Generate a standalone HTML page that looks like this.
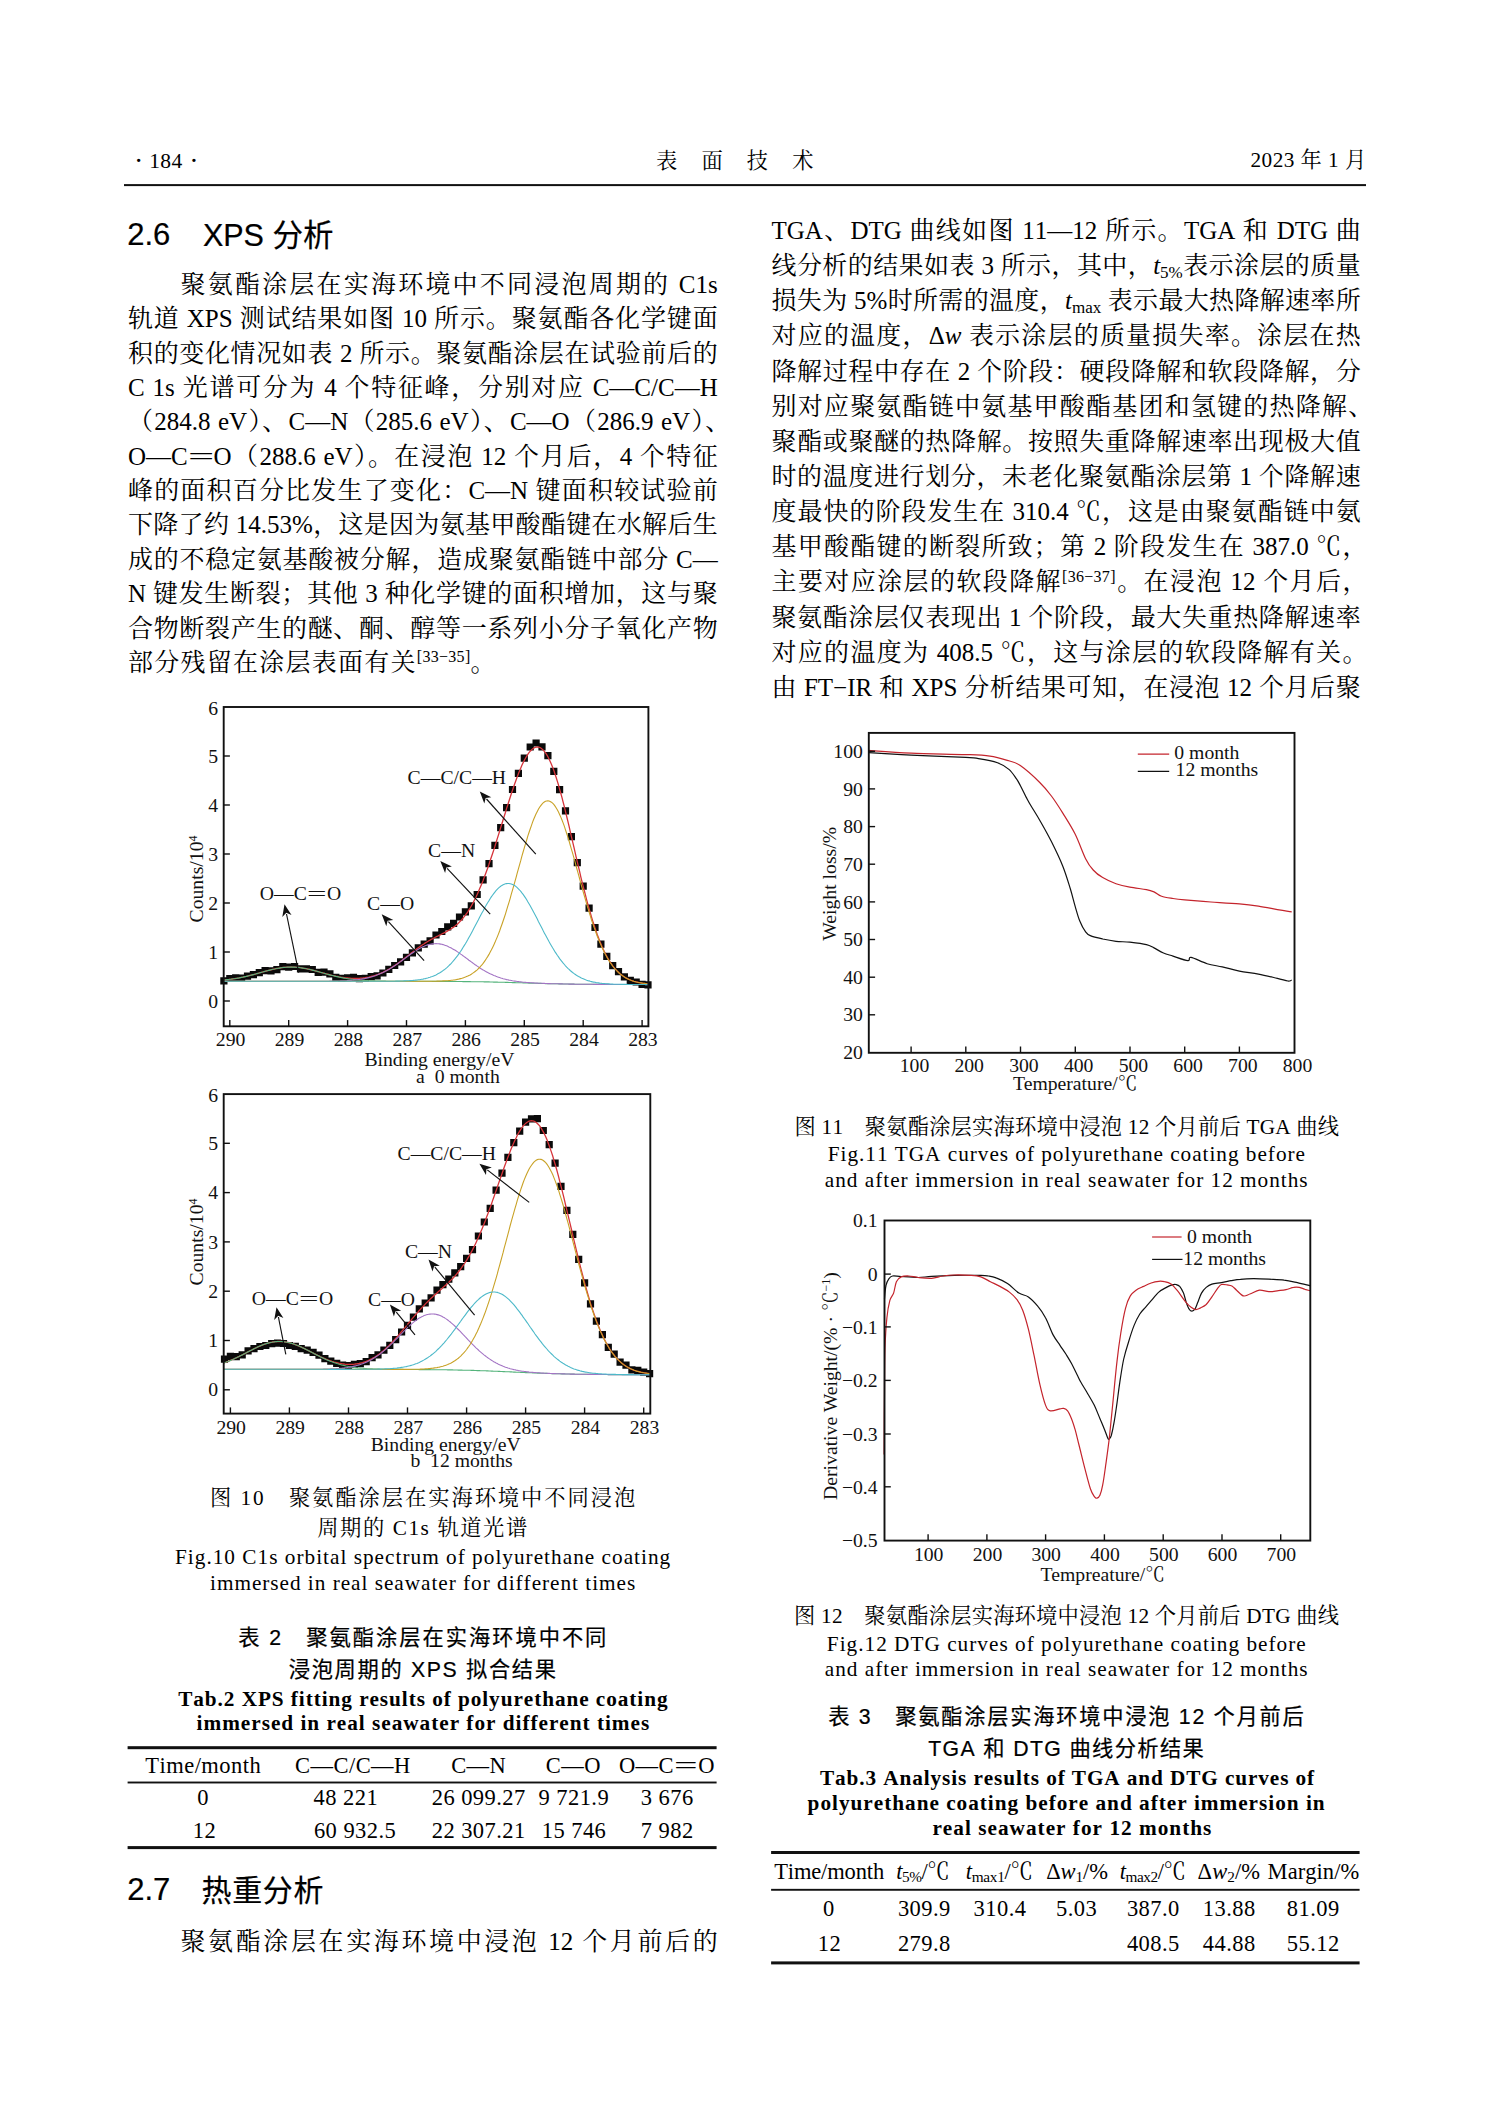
<!DOCTYPE html><html lang="zh"><head><meta charset="utf-8"><title>表面技术 184</title><style>
html,body{margin:0;padding:0;background:#fff}
body{width:1489px;height:2106px;position:relative;overflow:hidden;color:#000;font-family:"Liberation Serif","Noto Serif CJK SC",serif;text-autospace:no-autospace;text-spacing-trim:space-all;-webkit-font-smoothing:antialiased}
.t{position:absolute;white-space:nowrap;font-kerning:none}
.j{white-space:normal;text-align:justify;text-align-last:justify;overflow:visible}
.h{font-family:"Liberation Sans","Noto Sans CJK SC",sans-serif;-webkit-text-stroke:0.22px #000}
sup{font-size:64%;vertical-align:baseline;position:relative;top:-0.56em;line-height:0;letter-spacing:0.3px}
b{font-weight:inherit}
.pc{margin-right:-0.5em}
.po{margin-left:-0.5em}
.pq{margin-right:-0.27em}
.db{display:inline-block;transform:scaleX(1.86);margin:0 0.235em}
sub{font-size:68%;vertical-align:baseline;position:relative;top:0.22em;line-height:0}
svg{position:absolute;left:0;top:0}
svg text{font-family:"Liberation Serif","Noto Serif CJK SC",serif;font-size:19.7px;fill:#111}
</style></head><body>
<div class="t" style="top:142.75px;font-size:28px;line-height:36px;left:133.90px">·</div>
<div class="t" style="top:146.54px;font-size:21.5px;line-height:28px;letter-spacing:0.400px;left:149.20px">184</div>
<div class="t" style="top:142.75px;font-size:28px;line-height:36px;left:189.20px">·</div>
<div class="t" style="top:147.13px;font-size:21.25px;line-height:28px;letter-spacing:24.150px;left:656.00px">表面技术</div>
<div class="t" style="top:146.43px;font-size:21.25px;line-height:28px;letter-spacing:0.450px;right:122.40px">2023 年 1 月</div>
<div class="t h" style="top:214.86px;font-size:31px;line-height:40px;left:127.20px">2.6</div>
<div class="t h" style="top:214.63px;font-size:30.5px;line-height:40px;left:202.90px">XPS 分析</div>
<div class="t j" style="top:268.86px;font-size:25.0px;line-height:32px;left:180.50px;width:537.20px">聚氨酯涂层在实海环境中不同浸泡周期的 C1s</div>
<div class="t j" style="top:303.23px;font-size:25.0px;line-height:32px;left:128.00px;width:589.70px">轨道 XPS 测试结果如图 10 所示。聚氨酯各化学键面</div>
<div class="t j" style="top:337.60px;font-size:25.0px;line-height:32px;left:128.00px;width:589.70px">积的变化情况如表 2 所示。聚氨酯涂层在试验前后的</div>
<div class="t j" style="top:371.97px;font-size:25.0px;line-height:32px;left:128.00px;width:589.70px">C 1s 光谱可分为 4 个特征峰，分别对应 C—C/C—H</div>
<div class="t j" style="top:406.34px;font-size:25.0px;line-height:32px;left:128.00px;width:589.70px">（284.8 eV<b class="pc">）</b>、C—N（285.6 eV<b class="pc">）</b>、C—O（286.9 eV<b class="pc">）</b><b class="pc">、</b></div>
<div class="t j" style="top:440.71px;font-size:25.0px;line-height:32px;left:128.00px;width:589.70px">O—C<b class="db">=</b>O（288.6 eV<b class="pc">）</b>。在浸泡 12 个月后，4 个特征</div>
<div class="t j" style="top:475.08px;font-size:25.0px;line-height:32px;left:128.00px;width:589.70px">峰的面积百分比发生了变化：C—N 键面积较试验前</div>
<div class="t j" style="top:509.45px;font-size:25.0px;line-height:32px;left:128.00px;width:589.70px">下降了约 14.53%，这是因为氨基甲酸酯键在水解后生</div>
<div class="t j" style="top:543.82px;font-size:25.0px;line-height:32px;left:128.00px;width:589.70px">成的不稳定氨基酸被分解，造成聚氨酯链中部分 C—</div>
<div class="t j" style="top:578.19px;font-size:25.0px;line-height:32px;left:128.00px;width:589.70px">N 键发生断裂；其他 3 种化学键的面积增加，这与聚</div>
<div class="t j" style="top:612.56px;font-size:25.0px;line-height:32px;left:128.00px;width:589.70px">合物断裂产生的醚、酮、醇等一系列小分子氧化产物</div>
<div class="t" style="top:646.93px;font-size:25.0px;line-height:32px;letter-spacing:1.250px;left:128.00px">部分残留在涂层表面有关<sup>[33−35]</sup>。</div>
<div class="t j" style="top:215.06px;font-size:25.0px;line-height:32px;left:771.50px;width:589.20px">TGA、DTG 曲线如图 11—12 所示。TGA 和 DTG 曲</div>
<div class="t j" style="top:250.20px;font-size:25.0px;line-height:32px;left:771.50px;width:589.20px">线分析的结果如表 3 所示，其中，<i>t</i><sub>5%</sub>表示涂层的质量</div>
<div class="t j" style="top:285.34px;font-size:25.0px;line-height:32px;left:771.50px;width:589.20px">损失为 5%时所需的温度，<i>t</i><sub>max</sub> 表示最大热降解速率所</div>
<div class="t j" style="top:320.48px;font-size:25.0px;line-height:32px;left:771.50px;width:589.20px">对应的温度，Δ<i>w</i> 表示涂层的质量损失率。涂层在热</div>
<div class="t j" style="top:355.62px;font-size:25.0px;line-height:32px;left:771.50px;width:589.20px">降解过程中存在 2 个阶段：硬段降解和软段降解，分</div>
<div class="t j" style="top:390.76px;font-size:25.0px;line-height:32px;left:771.50px;width:589.20px">别对应聚氨酯链中氨基甲酸酯基团和氢键的热降解<b class="pc">、</b></div>
<div class="t j" style="top:425.90px;font-size:25.0px;line-height:32px;left:771.50px;width:589.20px">聚酯或聚醚的热降解。按照失重降解速率出现极大值</div>
<div class="t j" style="top:461.04px;font-size:25.0px;line-height:32px;left:771.50px;width:589.20px">时的温度进行划分，未老化聚氨酯涂层第 1 个降解速</div>
<div class="t j" style="top:496.18px;font-size:25.0px;line-height:32px;left:771.50px;width:589.20px">度最快的阶段发生在 310.4 ℃，这是由聚氨酯链中氨</div>
<div class="t j" style="top:531.32px;font-size:25.0px;line-height:32px;left:771.50px;width:589.20px">基甲酸酯键的断裂所致；第 2 阶段发生在 387.0 ℃<b class="pq">，</b></div>
<div class="t j" style="top:566.46px;font-size:25.0px;line-height:32px;left:771.50px;width:589.20px">主要对应涂层的软段降解<sup>[36−37]</sup>。在浸泡 12 个月后<b class="pq">，</b></div>
<div class="t j" style="top:601.60px;font-size:25.0px;line-height:32px;left:771.50px;width:589.20px">聚氨酯涂层仅表现出 1 个阶段，最大失重热降解速率</div>
<div class="t j" style="top:636.74px;font-size:25.0px;line-height:32px;left:771.50px;width:589.20px">对应的温度为 408.5 ℃，这与涂层的软段降解有关<b class="pq">。</b></div>
<div class="t j" style="top:671.88px;font-size:25.0px;line-height:32px;left:771.50px;width:589.20px">由 FT−IR 和 XPS 分析结果可知，在浸泡 12 个月后聚</div>
<div class="t" style="top:1483.63px;font-size:21.25px;line-height:28px;letter-spacing:1.967px;left:210.00px">图 10　聚氨酯涂层在实海环境中不同浸泡</div>
<div class="t" style="top:1514.33px;font-size:21.25px;line-height:28px;letter-spacing:1.595px;left:317.20px">周期的 C1s 轨道光谱</div>
<div class="t" style="top:1543.43px;font-size:21.25px;line-height:28px;letter-spacing:1.016px;left:175.00px">Fig.10 C1s orbital spectrum of polyurethane coating</div>
<div class="t" style="top:1568.53px;font-size:21.25px;line-height:28px;letter-spacing:0.974px;left:210.00px">immersed in real seawater for different times</div>
<div class="t h" style="top:1623.84px;font-size:21.25px;line-height:28px;letter-spacing:1.982px;left:238.20px">表 2　聚氨酯涂层在实海环境中不同</div>
<div class="t h" style="top:1656.04px;font-size:21.25px;line-height:28px;letter-spacing:1.662px;left:288.80px">浸泡周期的 XPS 拟合结果</div>
<div class="t" style="top:1684.63px;font-size:21.25px;line-height:28px;font-weight:bold;letter-spacing:0.935px;left:178.20px">Tab.2 XPS fitting results of polyurethane coating</div>
<div class="t" style="top:1709.33px;font-size:21.25px;line-height:28px;font-weight:bold;letter-spacing:0.980px;left:196.60px">immersed in real seawater for different times</div>
<div class="t" style="top:1750.61px;font-size:22.5px;line-height:29px;letter-spacing:0.450px;left:-97.00px;width:600px;text-align:center;text-indent:0.450px">Time/month</div>
<div class="t" style="top:1750.61px;font-size:22.5px;line-height:29px;letter-spacing:0.450px;left:52.70px;width:600px;text-align:center;text-indent:0.450px">C—C/C—H</div>
<div class="t" style="top:1750.61px;font-size:22.5px;line-height:29px;letter-spacing:0.450px;left:178.50px;width:600px;text-align:center;text-indent:0.450px">C—N</div>
<div class="t" style="top:1750.61px;font-size:22.5px;line-height:29px;letter-spacing:0.450px;left:273.20px;width:600px;text-align:center;text-indent:0.450px">C—O</div>
<div class="t" style="top:1750.61px;font-size:22.5px;line-height:29px;letter-spacing:0.450px;left:366.70px;width:600px;text-align:center;text-indent:0.450px">O—C<b class="db">=</b>O</div>
<div class="t" style="top:1783.41px;font-size:22.5px;line-height:29px;letter-spacing:0.450px;left:-97.20px;width:600px;text-align:center;text-indent:0.450px">0</div>
<div class="t" style="top:1783.41px;font-size:22.5px;line-height:29px;letter-spacing:0.450px;left:45.60px;width:600px;text-align:center;text-indent:0.450px">48 221</div>
<div class="t" style="top:1783.41px;font-size:22.5px;line-height:29px;letter-spacing:0.450px;left:178.50px;width:600px;text-align:center;text-indent:0.450px">26 099.27</div>
<div class="t" style="top:1783.41px;font-size:22.5px;line-height:29px;letter-spacing:0.450px;left:273.60px;width:600px;text-align:center;text-indent:0.450px">9 721.9</div>
<div class="t" style="top:1783.41px;font-size:22.5px;line-height:29px;letter-spacing:0.450px;left:367.00px;width:600px;text-align:center;text-indent:0.450px">3 676</div>
<div class="t" style="top:1815.81px;font-size:22.5px;line-height:29px;letter-spacing:0.450px;left:-95.80px;width:600px;text-align:center;text-indent:0.450px">12</div>
<div class="t" style="top:1815.81px;font-size:22.5px;line-height:29px;letter-spacing:0.450px;left:54.90px;width:600px;text-align:center;text-indent:0.450px">60 932.5</div>
<div class="t" style="top:1815.81px;font-size:22.5px;line-height:29px;letter-spacing:0.450px;left:178.50px;width:600px;text-align:center;text-indent:0.450px">22 307.21</div>
<div class="t" style="top:1815.81px;font-size:22.5px;line-height:29px;letter-spacing:0.450px;left:273.80px;width:600px;text-align:center;text-indent:0.450px">15 746</div>
<div class="t" style="top:1815.81px;font-size:22.5px;line-height:29px;letter-spacing:0.450px;left:367.00px;width:600px;text-align:center;text-indent:0.450px">7 982</div>
<div class="t h" style="top:1870.46px;font-size:31px;line-height:40px;left:127.20px">2.7</div>
<div class="t h" style="top:1870.90px;font-size:30px;line-height:39px;letter-spacing:0.600px;left:201.60px">热重分析</div>
<div class="t j" style="top:1926.46px;font-size:25.0px;line-height:32px;left:180.50px;width:537.20px">聚氨酯涂层在实海环境中浸泡 12 个月前后的</div>
<div class="t" style="top:1112.83px;font-size:21.25px;line-height:28px;letter-spacing:0.215px;left:794.60px">图 11　聚氨酯涂层实海环境中浸泡 12 个月前后 TGA 曲线</div>
<div class="t" style="top:1139.63px;font-size:21.25px;line-height:28px;letter-spacing:0.975px;left:827.80px">Fig.11 TGA curves of polyurethane coating before</div>
<div class="t" style="top:1165.83px;font-size:21.25px;line-height:28px;letter-spacing:0.990px;left:824.80px">and after immersion in real seawater for 12 months</div>
<div class="t" style="top:1601.73px;font-size:21.25px;line-height:28px;letter-spacing:0.234px;left:794.00px">图 12　聚氨酯涂层实海环境中浸泡 12 个月前后 DTG 曲线</div>
<div class="t" style="top:1630.33px;font-size:21.25px;line-height:28px;letter-spacing:1.013px;left:826.80px">Fig.12 DTG curves of polyurethane coating before</div>
<div class="t" style="top:1654.93px;font-size:21.25px;line-height:28px;letter-spacing:0.990px;left:824.80px">and after immersion in real seawater for 12 months</div>
<div class="t h" style="top:1703.04px;font-size:21.25px;line-height:28px;letter-spacing:1.736px;left:828.20px">表 3　聚氨酯涂层实海环境中浸泡 12 个月前后</div>
<div class="t h" style="top:1735.04px;font-size:21.25px;line-height:28px;letter-spacing:1.372px;left:928.20px">TGA 和 DTG 曲线分析结果</div>
<div class="t" style="top:1763.73px;font-size:21.25px;line-height:28px;font-weight:bold;letter-spacing:0.900px;left:820.00px">Tab.3 Analysis results of TGA and DTG curves of</div>
<div class="t" style="top:1789.33px;font-size:21.25px;line-height:28px;font-weight:bold;letter-spacing:0.987px;left:807.60px">polyurethane coating before and after immersion in</div>
<div class="t" style="top:1814.33px;font-size:21.25px;line-height:28px;font-weight:bold;letter-spacing:1.016px;left:932.40px">real seawater for 12 months</div>
<div class="t" style="top:1856.91px;font-size:22.5px;line-height:29px;letter-spacing:-0.139px;left:774.20px">Time/month</div>
<div class="t" style="top:1856.91px;font-size:22.5px;line-height:29px;letter-spacing:-0.459px;left:896.20px"><i>t</i><sub>5%</sub>/℃</div>
<div class="t" style="top:1856.91px;font-size:22.5px;line-height:29px;letter-spacing:-0.305px;left:965.80px"><i>t</i><sub>max1</sub>/℃</div>
<div class="t" style="top:1856.91px;font-size:22.5px;line-height:29px;letter-spacing:-0.089px;left:1046.20px">Δ<i>w</i><sub>1</sub>/%</div>
<div class="t" style="top:1856.91px;font-size:22.5px;line-height:29px;letter-spacing:-0.472px;left:1119.80px"><i>t</i><sub>max2</sub>/℃</div>
<div class="t" style="top:1856.91px;font-size:22.5px;line-height:29px;letter-spacing:0.061px;left:1197.60px">Δ<i>w</i><sub>2</sub>/%</div>
<div class="t" style="top:1856.91px;font-size:22.5px;line-height:29px;letter-spacing:0.052px;left:1267.60px">Margin/%</div>
<div class="t" style="top:1893.61px;font-size:22.5px;line-height:29px;letter-spacing:0.450px;left:624.10px;width:600px;text-align:center;text-indent:0.450px">309.9</div>
<div class="t" style="top:1893.61px;font-size:22.5px;line-height:29px;letter-spacing:0.450px;left:699.80px;width:600px;text-align:center;text-indent:0.450px">310.4</div>
<div class="t" style="top:1893.61px;font-size:22.5px;line-height:29px;letter-spacing:0.450px;left:776.45px;width:600px;text-align:center;text-indent:0.450px">5.03</div>
<div class="t" style="top:1893.61px;font-size:22.5px;line-height:29px;letter-spacing:0.450px;left:853.10px;width:600px;text-align:center;text-indent:0.450px">387.0</div>
<div class="t" style="top:1893.61px;font-size:22.5px;line-height:29px;letter-spacing:0.450px;left:929.05px;width:600px;text-align:center;text-indent:0.450px">13.88</div>
<div class="t" style="top:1893.61px;font-size:22.5px;line-height:29px;letter-spacing:0.450px;left:1013.00px;width:600px;text-align:center;text-indent:0.450px">81.09</div>
<div class="t" style="top:1893.61px;font-size:22.5px;line-height:29px;letter-spacing:0.450px;left:528.70px;width:600px;text-align:center;text-indent:0.450px">0</div>
<div class="t" style="top:1929.01px;font-size:22.5px;line-height:29px;letter-spacing:0.450px;left:624.10px;width:600px;text-align:center;text-indent:0.450px">279.8</div>
<div class="t" style="top:1929.01px;font-size:22.5px;line-height:29px;letter-spacing:0.450px;left:853.10px;width:600px;text-align:center;text-indent:0.450px">408.5</div>
<div class="t" style="top:1929.01px;font-size:22.5px;line-height:29px;letter-spacing:0.450px;left:929.05px;width:600px;text-align:center;text-indent:0.450px">44.88</div>
<div class="t" style="top:1929.01px;font-size:22.5px;line-height:29px;letter-spacing:0.450px;left:1013.00px;width:600px;text-align:center;text-indent:0.450px">55.12</div>
<div class="t" style="top:1929.01px;font-size:22.5px;line-height:29px;letter-spacing:0.450px;left:529.30px;width:600px;text-align:center;text-indent:0.450px">12</div>
<svg width="1489" height="2106" viewBox="0 0 1489 2106"><clipPath id="cp1"><rect x="223.7" y="707.0" width="424.7" height="319.3"/></clipPath>
<path d="M220.3,977.3h7.2v7.2h-7.2zM226.2,974.9h7.2v7.2h-7.2zM232.1,974.2h7.2v7.2h-7.2zM238.0,974.4h7.2v7.2h-7.2zM243.9,972.5h7.2v7.2h-7.2zM249.8,971.1h7.2v7.2h-7.2zM255.7,969.0h7.2v7.2h-7.2zM261.5,967.0h7.2v7.2h-7.2zM267.4,967.2h7.2v7.2h-7.2zM273.3,966.0h7.2v7.2h-7.2zM279.2,963.1h7.2v7.2h-7.2zM285.1,963.6h7.2v7.2h-7.2zM291.0,962.9h7.2v7.2h-7.2zM296.9,965.3h7.2v7.2h-7.2zM302.8,965.2h7.2v7.2h-7.2zM308.7,965.9h7.2v7.2h-7.2zM314.6,968.7h7.2v7.2h-7.2zM320.4,968.5h7.2v7.2h-7.2zM326.3,970.2h7.2v7.2h-7.2zM332.2,973.7h7.2v7.2h-7.2zM338.1,974.8h7.2v7.2h-7.2zM344.0,974.3h7.2v7.2h-7.2zM349.9,973.7h7.2v7.2h-7.2zM355.8,975.0h7.2v7.2h-7.2zM361.7,974.8h7.2v7.2h-7.2zM367.6,973.1h7.2v7.2h-7.2zM373.5,972.3h7.2v7.2h-7.2zM379.3,969.4h7.2v7.2h-7.2zM385.2,965.8h7.2v7.2h-7.2zM391.1,961.9h7.2v7.2h-7.2zM397.0,958.3h7.2v7.2h-7.2zM402.9,953.8h7.2v7.2h-7.2zM408.8,949.3h7.2v7.2h-7.2zM414.7,944.2h7.2v7.2h-7.2zM420.6,940.5h7.2v7.2h-7.2zM426.5,937.3h7.2v7.2h-7.2zM432.4,931.4h7.2v7.2h-7.2zM438.2,927.9h7.2v7.2h-7.2zM444.1,923.2h7.2v7.2h-7.2zM450.0,919.8h7.2v7.2h-7.2zM455.9,913.4h7.2v7.2h-7.2zM461.8,908.3h7.2v7.2h-7.2zM467.7,902.2h7.2v7.2h-7.2zM473.6,890.9h7.2v7.2h-7.2zM479.5,876.2h7.2v7.2h-7.2zM485.4,860.1h7.2v7.2h-7.2zM491.3,841.7h7.2v7.2h-7.2zM497.1,824.1h7.2v7.2h-7.2zM503.0,804.0h7.2v7.2h-7.2zM508.9,785.9h7.2v7.2h-7.2zM514.8,769.8h7.2v7.2h-7.2zM520.7,754.5h7.2v7.2h-7.2zM526.6,743.4h7.2v7.2h-7.2zM532.5,739.4h7.2v7.2h-7.2zM538.4,743.2h7.2v7.2h-7.2zM544.3,752.0h7.2v7.2h-7.2zM550.2,767.7h7.2v7.2h-7.2zM556.0,786.1h7.2v7.2h-7.2zM561.9,807.3h7.2v7.2h-7.2zM567.8,833.1h7.2v7.2h-7.2zM573.7,859.1h7.2v7.2h-7.2zM579.6,882.6h7.2v7.2h-7.2zM585.5,904.5h7.2v7.2h-7.2zM591.4,923.9h7.2v7.2h-7.2zM597.3,940.5h7.2v7.2h-7.2zM603.2,952.8h7.2v7.2h-7.2zM609.1,962.0h7.2v7.2h-7.2zM614.9,968.1h7.2v7.2h-7.2zM620.8,973.3h7.2v7.2h-7.2zM626.7,976.7h7.2v7.2h-7.2zM632.6,978.4h7.2v7.2h-7.2zM638.5,980.7h7.2v7.2h-7.2zM644.4,981.3h7.2v7.2h-7.2z" fill="#0a0a0a"/>
<g clip-path="url(#cp1)">
<path d="M222.7,980.1L223.9,980.0L225.1,979.9L226.3,979.7L227.4,979.6L228.6,979.5L229.8,979.3L231.0,979.2L232.2,979.0L233.3,978.8L234.5,978.7L235.7,978.5L236.9,978.3L238.0,978.1L239.2,977.9L240.4,977.6L241.6,977.4L242.8,977.2L243.9,976.9L245.1,976.6L246.3,976.4L247.5,976.1L248.6,975.8L249.8,975.5L251.0,975.2L252.2,974.9L253.4,974.6L254.5,974.3L255.7,974.0L256.9,973.6L258.1,973.3L259.2,973.0L260.4,972.6L261.6,972.3L262.8,972.0L264.0,971.6L265.1,971.3L266.3,971.0L267.5,970.7L268.7,970.4L269.9,970.1L271.0,969.8L272.2,969.5L273.4,969.2L274.6,969.0L275.7,968.7L276.9,968.5L278.1,968.3L279.3,968.1L280.5,967.9L281.6,967.7L282.8,967.5L284.0,967.4L285.2,967.3L286.3,967.2L287.5,967.1L288.7,967.1L289.9,967.1L291.1,967.0L292.2,967.1L293.4,967.1L294.6,967.1L295.8,967.2L296.9,967.3L298.1,967.4L299.3,967.5L300.5,967.7L301.7,967.9L302.8,968.1L304.0,968.3L305.2,968.5L306.4,968.7L307.5,969.0L308.7,969.2L309.9,969.5L311.1,969.8L312.3,970.1L313.4,970.4L314.6,970.7L315.8,971.0L317.0,971.3L318.1,971.6L319.3,971.9L320.5,972.3L321.7,972.6L322.9,972.9L324.0,973.2L325.2,973.6L326.4,973.9L327.6,974.2L328.8,974.5L329.9,974.8L331.1,975.1L332.3,975.4L333.5,975.6L334.6,975.9L335.8,976.2L337.0,976.4L338.2,976.6L339.4,976.9L340.5,977.1L341.7,977.3L342.9,977.4L344.1,977.6L345.2,977.8L346.4,977.9L347.6,978.0L348.8,978.1L350.0,978.2L351.1,978.3L352.3,978.3L353.5,978.4L354.7,978.4L355.8,978.4L357.0,978.4L358.2,978.3L359.4,978.3L360.6,978.2L361.7,978.1L362.9,978.0L364.1,977.8L365.3,977.7L366.4,977.5L367.6,977.3L368.8,977.1L370.0,976.8L371.2,976.5L372.3,976.2L373.5,975.9L374.7,975.5L375.9,975.1L377.1,974.7L378.2,974.3L379.4,973.8L380.6,973.4L381.8,972.8L382.9,972.3L384.1,971.7L385.3,971.1L386.5,970.5L387.7,969.9L388.8,969.2L390.0,968.5L391.2,967.8L392.4,967.0L393.5,966.3L394.7,965.5L395.9,964.7L397.1,963.9L398.3,963.0L399.4,962.2L400.6,961.3L401.8,960.4L403.0,959.5L404.1,958.6L405.3,957.7L406.5,956.8L407.7,955.8L408.9,954.9L410.0,954.0L411.2,953.1L412.4,952.2L413.6,951.3L414.7,950.4L415.9,949.5L417.1,948.6L418.3,947.7L419.5,946.9L420.6,946.1L421.8,945.3L423.0,944.5L424.2,943.7L425.3,942.9L426.5,942.2L427.7,941.5L428.9,940.8L430.1,940.1L431.2,939.4L432.4,938.8L433.6,938.2L434.8,937.5L436.0,936.9L437.1,936.3L438.3,935.8L439.5,935.2L440.7,934.6L441.8,934.0L443.0,933.4L444.2,932.8L445.4,932.2L446.6,931.6L447.7,930.9L448.9,930.2L450.1,929.5L451.3,928.7L452.4,927.9L453.6,927.1L454.8,926.2L456.0,925.2L457.2,924.2L458.3,923.2L459.5,922.0L460.7,920.8L461.9,919.5L463.0,918.1L464.2,916.7L465.4,915.1L466.6,913.5L467.8,911.8L468.9,909.9L470.1,908.0L471.3,906.0L472.5,903.9L473.6,901.7L474.8,899.4L476.0,897.0L477.2,894.4L478.4,891.8L479.5,889.1L480.7,886.3L481.9,883.4L483.1,880.4L484.2,877.4L485.4,874.2L486.6,871.0L487.8,867.7L489.0,864.3L490.1,860.8L491.3,857.3L492.5,853.7L493.7,850.1L494.9,846.4L496.0,842.7L497.2,838.9L498.4,835.1L499.6,831.3L500.7,827.5L501.9,823.7L503.1,819.8L504.3,816.0L505.5,812.2L506.6,808.4L507.8,804.7L509.0,801.0L510.2,797.3L511.3,793.7L512.5,790.2L513.7,786.7L514.9,783.3L516.1,780.0L517.2,776.9L518.4,773.8L519.6,770.8L520.8,768.0L521.9,765.3L523.1,762.8L524.3,760.4L525.5,758.2L526.7,756.2L527.8,754.3L529.0,752.7L530.2,751.2L531.4,750.0L532.5,748.9L533.7,748.1L534.9,747.5L536.1,747.1L537.3,747.0L538.4,747.1L539.6,747.4L540.8,748.0L542.0,748.9L543.1,749.9L544.3,751.3L545.5,752.8L546.7,754.6L547.9,756.7L549.0,759.0L550.2,761.5L551.4,764.2L552.6,767.2L553.8,770.3L554.9,773.7L556.1,777.3L557.3,781.1L558.5,785.0L559.6,789.1L560.8,793.3L562.0,797.7L563.2,802.3L564.4,806.9L565.5,811.7L566.7,816.5L567.9,821.4L569.1,826.4L570.2,831.4L571.4,836.5L572.6,841.6L573.8,846.7L575.0,851.8L576.1,856.8L577.3,861.9L578.5,866.9L579.7,871.9L580.8,876.8L582.0,881.6L583.2,886.4L584.4,891.0L585.6,895.6L586.7,900.1L587.9,904.4L589.1,908.6L590.3,912.8L591.4,916.7L592.6,920.6L593.8,924.3L595.0,927.9L596.2,931.4L597.3,934.7L598.5,937.8L599.7,940.9L600.9,943.8L602.0,946.5L603.2,949.2L604.4,951.7L605.6,954.0L606.8,956.2L607.9,958.4L609.1,960.3L610.3,962.2L611.5,964.0L612.6,965.6L613.8,967.1L615.0,968.6L616.2,969.9L617.4,971.2L618.5,972.3L619.7,973.4L620.9,974.4L622.1,975.3L623.3,976.2L624.4,977.0L625.6,977.7L626.8,978.3L628.0,978.9L629.1,979.5L630.3,980.0L631.5,980.5L632.7,980.9L633.9,981.3L635.0,981.6L636.2,981.9L637.4,982.2L638.6,982.5L639.7,982.7L640.9,982.9L642.1,983.1L643.3,983.3L644.5,983.4L645.6,983.6L646.8,983.7L648.0,983.8L649.2,983.9" fill="none" stroke="#d6343a" stroke-width="1.3"/>
<path d="M222.7,980.1L223.9,980.0L225.1,979.9L226.3,979.7L227.4,979.6L228.6,979.5L229.8,979.3L231.0,979.2L232.2,979.0L233.3,978.8L234.5,978.7L235.7,978.5L236.9,978.3L238.0,978.1L239.2,977.9L240.4,977.6L241.6,977.4L242.8,977.2L243.9,976.9L245.1,976.6L246.3,976.4L247.5,976.1L248.6,975.8L249.8,975.5L251.0,975.2L252.2,974.9L253.4,974.6L254.5,974.3L255.7,974.0L256.9,973.6L258.1,973.3L259.2,973.0L260.4,972.6L261.6,972.3L262.8,972.0L264.0,971.6L265.1,971.3L266.3,971.0L267.5,970.7L268.7,970.4L269.9,970.1L271.0,969.8L272.2,969.5L273.4,969.2L274.6,969.0L275.7,968.7L276.9,968.5L278.1,968.3L279.3,968.1L280.5,967.9L281.6,967.7L282.8,967.5L284.0,967.4L285.2,967.3L286.3,967.2L287.5,967.1L288.7,967.1L289.9,967.1L291.1,967.0L292.2,967.1L293.4,967.1L294.6,967.1L295.8,967.2L296.9,967.3L298.1,967.4L299.3,967.5L300.5,967.7L301.7,967.9L302.8,968.1L304.0,968.3L305.2,968.5L306.4,968.7L307.5,969.0L308.7,969.2L309.9,969.5L311.1,969.8L312.3,970.1L313.4,970.4L314.6,970.7L315.8,971.0L317.0,971.3L318.1,971.6L319.3,972.0L320.5,972.3L321.7,972.6L322.9,973.0L324.0,973.3L325.2,973.6L326.4,974.0L327.6,974.3L328.8,974.6L329.9,974.9L331.1,975.2L332.3,975.5L333.5,975.8L334.6,976.1L335.8,976.4L337.0,976.6L338.2,976.9L339.4,977.2L340.5,977.4L341.7,977.6L342.9,977.9L344.1,978.1L345.2,978.3L346.4,978.5L347.6,978.7L348.8,978.9L350.0,979.0L351.1,979.2L352.3,979.3L353.5,979.5L354.7,979.6L355.8,979.7L357.0,979.9L358.2,980.0L359.4,980.1L360.6,980.2L361.7,980.3L362.9,980.4L364.1,980.4L365.3,980.5L366.4,980.6L367.6,980.6L368.8,980.7L370.0,980.7L371.2,980.8L372.3,980.8L373.5,980.9L374.7,980.9L375.9,981.0L377.1,981.0L378.2,981.0L379.4,981.0L380.6,981.1L381.8,981.1L382.9,981.1L384.1,981.1L385.3,981.1L386.5,981.2L387.7,981.2L388.8,981.2L390.0,981.2L391.2,981.2L392.4,981.2L393.5,981.2L394.7,981.2L395.9,981.2L397.1,981.2L398.3,981.3L399.4,981.3L400.6,981.3L401.8,981.3L403.0,981.3L404.1,981.3L405.3,981.3L406.5,981.3L407.7,981.3L408.9,981.3L410.0,981.3L411.2,981.3L412.4,981.3L413.6,981.3L414.7,981.3L415.9,981.3L417.1,981.3L418.3,981.3L419.5,981.3L420.6,981.3L421.8,981.3L423.0,981.3L424.2,981.3L425.3,981.3L426.5,981.3L427.7,981.3L428.9,981.3L430.1,981.3L431.2,981.3L432.4,981.4L433.6,981.4L434.8,981.4L436.0,981.4L437.1,981.4L438.3,981.4L439.5,981.4L440.7,981.4L441.8,981.4L443.0,981.4L444.2,981.4L445.4,981.4L446.6,981.4L447.7,981.4L448.9,981.4L450.1,981.4L451.3,981.5L452.4,981.5L453.6,981.5L454.8,981.5L456.0,981.5L457.2,981.5L458.3,981.5L459.5,981.5L460.7,981.5L461.9,981.5L463.0,981.6L464.2,981.6L465.4,981.6L466.6,981.6L467.8,981.6L468.9,981.6L470.1,981.6L471.3,981.7L472.5,981.7L473.6,981.7L474.8,981.7L476.0,981.7L477.2,981.7L478.4,981.8L479.5,981.8L480.7,981.8L481.9,981.8L483.1,981.8L484.2,981.9L485.4,981.9L486.6,981.9L487.8,981.9L489.0,981.9L490.1,982.0L491.3,982.0L492.5,982.0L493.7,982.1L494.9,982.1L496.0,982.1L497.2,982.1L498.4,982.2L499.6,982.2L500.7,982.2L501.9,982.3L503.1,982.3L504.3,982.3L505.5,982.4L506.6,982.4L507.8,982.4L509.0,982.5L510.2,982.5L511.3,982.5L512.5,982.6L513.7,982.6L514.9,982.6L516.1,982.7L517.2,982.7L518.4,982.7L519.6,982.8L520.8,982.8L521.9,982.8L523.1,982.9L524.3,982.9L525.5,983.0L526.7,983.0L527.8,983.0L529.0,983.1L530.2,983.1L531.4,983.1L532.5,983.2L533.7,983.2L534.9,983.2L536.1,983.3L537.3,983.3L538.4,983.4L539.6,983.4L540.8,983.4L542.0,983.5L543.1,983.5L544.3,983.5L545.5,983.6L546.7,983.6L547.9,983.6L549.0,983.6L550.2,983.7L551.4,983.7L552.6,983.7L553.8,983.8L554.9,983.8L556.1,983.8L557.3,983.8L558.5,983.9L559.6,983.9L560.8,983.9L562.0,983.9L563.2,984.0L564.4,984.0L565.5,984.0L566.7,984.0L567.9,984.0L569.1,984.1L570.2,984.1L571.4,984.1L572.6,984.1L573.8,984.1L575.0,984.2L576.1,984.2L577.3,984.2L578.5,984.2L579.7,984.2L580.8,984.2L582.0,984.2L583.2,984.3L584.4,984.3L585.6,984.3L586.7,984.3L587.9,984.3L589.1,984.3L590.3,984.3L591.4,984.3L592.6,984.3L593.8,984.4L595.0,984.4L596.2,984.4L597.3,984.4L598.5,984.4L599.7,984.4L600.9,984.4L602.0,984.4L603.2,984.4L604.4,984.4L605.6,984.4L606.8,984.4L607.9,984.4L609.1,984.5L610.3,984.5L611.5,984.5L612.6,984.5L613.8,984.5L615.0,984.5L616.2,984.5L617.4,984.5L618.5,984.5L619.7,984.5L620.9,984.5L622.1,984.5L623.3,984.5L624.4,984.5L625.6,984.5L626.8,984.5L628.0,984.5L629.1,984.5L630.3,984.5L631.5,984.5L632.7,984.5L633.9,984.5L635.0,984.5L636.2,984.5L637.4,984.5L638.6,984.5L639.7,984.5L640.9,984.5L642.1,984.5L643.3,984.5L644.5,984.5L645.6,984.6L646.8,984.6L648.0,984.6L649.2,984.6" fill="none" stroke="#55b47c" stroke-width="1.1"/>
<path d="M222.7,981.3L223.9,981.3L225.1,981.3L226.3,981.3L227.4,981.3L228.6,981.3L229.8,981.3L231.0,981.3L232.2,981.3L233.3,981.3L234.5,981.3L235.7,981.3L236.9,981.3L238.0,981.3L239.2,981.3L240.4,981.3L241.6,981.3L242.8,981.3L243.9,981.3L245.1,981.3L246.3,981.3L247.5,981.3L248.6,981.3L249.8,981.3L251.0,981.3L252.2,981.3L253.4,981.3L254.5,981.3L255.7,981.3L256.9,981.3L258.1,981.3L259.2,981.3L260.4,981.3L261.6,981.3L262.8,981.3L264.0,981.3L265.1,981.3L266.3,981.3L267.5,981.3L268.7,981.3L269.9,981.3L271.0,981.3L272.2,981.3L273.4,981.3L274.6,981.3L275.7,981.3L276.9,981.3L278.1,981.3L279.3,981.3L280.5,981.3L281.6,981.3L282.8,981.3L284.0,981.3L285.2,981.3L286.3,981.3L287.5,981.3L288.7,981.3L289.9,981.3L291.1,981.3L292.2,981.3L293.4,981.3L294.6,981.3L295.8,981.3L296.9,981.3L298.1,981.3L299.3,981.3L300.5,981.3L301.7,981.3L302.8,981.2L304.0,981.2L305.2,981.2L306.4,981.2L307.5,981.2L308.7,981.2L309.9,981.2L311.1,981.2L312.3,981.2L313.4,981.2L314.6,981.2L315.8,981.2L317.0,981.2L318.1,981.2L319.3,981.2L320.5,981.2L321.7,981.2L322.9,981.2L324.0,981.2L325.2,981.2L326.4,981.2L327.6,981.2L328.8,981.2L329.9,981.1L331.1,981.1L332.3,981.1L333.5,981.1L334.6,981.1L335.8,981.0L337.0,981.0L338.2,981.0L339.4,981.0L340.5,980.9L341.7,980.9L342.9,980.8L344.1,980.8L345.2,980.7L346.4,980.7L347.6,980.6L348.8,980.5L350.0,980.4L351.1,980.4L352.3,980.3L353.5,980.2L354.7,980.0L355.8,979.9L357.0,979.8L358.2,979.6L359.4,979.5L360.6,979.3L361.7,979.1L362.9,978.9L364.1,978.7L365.3,978.4L366.4,978.2L367.6,977.9L368.8,977.6L370.0,977.3L371.2,977.0L372.3,976.6L373.5,976.3L374.7,975.9L375.9,975.5L377.1,975.0L378.2,974.6L379.4,974.1L380.6,973.6L381.8,973.0L382.9,972.5L384.1,971.9L385.3,971.3L386.5,970.7L387.7,970.0L388.8,969.4L390.0,968.7L391.2,967.9L392.4,967.2L393.5,966.4L394.7,965.7L395.9,964.9L397.1,964.1L398.3,963.2L399.4,962.4L400.6,961.6L401.8,960.7L403.0,959.8L404.1,959.0L405.3,958.1L406.5,957.2L407.7,956.4L408.9,955.5L410.0,954.7L411.2,953.8L412.4,953.0L413.6,952.2L414.7,951.4L415.9,950.7L417.1,949.9L418.3,949.2L419.5,948.6L420.6,947.9L421.8,947.3L423.0,946.7L424.2,946.2L425.3,945.7L426.5,945.3L427.7,944.9L428.9,944.6L430.1,944.3L431.2,944.1L432.4,943.9L433.6,943.7L434.8,943.7L436.0,943.6L437.1,943.7L438.3,943.8L439.5,943.9L440.7,944.1L441.8,944.3L443.0,944.6L444.2,945.0L445.4,945.4L446.6,945.8L447.7,946.3L448.9,946.9L450.1,947.4L451.3,948.0L452.4,948.7L453.6,949.4L454.8,950.1L456.0,950.8L457.2,951.6L458.3,952.4L459.5,953.2L460.7,954.1L461.9,954.9L463.0,955.8L464.2,956.6L465.4,957.5L466.6,958.4L467.8,959.3L468.9,960.2L470.1,961.0L471.3,961.9L472.5,962.8L473.6,963.6L474.8,964.5L476.0,965.3L477.2,966.1L478.4,966.9L479.5,967.7L480.7,968.5L481.9,969.2L483.1,969.9L484.2,970.6L485.4,971.3L486.6,971.9L487.8,972.6L489.0,973.2L490.1,973.8L491.3,974.3L492.5,974.8L493.7,975.4L494.9,975.8L496.0,976.3L497.2,976.8L498.4,977.2L499.6,977.6L500.7,978.0L501.9,978.3L503.1,978.7L504.3,979.0L505.5,979.3L506.6,979.6L507.8,979.8L509.0,980.1L510.2,980.3L511.3,980.5L512.5,980.8L513.7,981.0L514.9,981.1L516.1,981.3L517.2,981.5L518.4,981.6L519.6,981.8L520.8,981.9L521.9,982.0L523.1,982.2L524.3,982.3L525.5,982.4L526.7,982.5L527.8,982.6L529.0,982.6L530.2,982.7L531.4,982.8L532.5,982.9L533.7,982.9L534.9,983.0L536.1,983.1L537.3,983.1L538.4,983.2L539.6,983.2L540.8,983.3L542.0,983.3L543.1,983.4L544.3,983.4L545.5,983.5L546.7,983.5L547.9,983.6L549.0,983.6L550.2,983.6L551.4,983.7L552.6,983.7L553.8,983.7L554.9,983.8L556.1,983.8L557.3,983.8L558.5,983.8L559.6,983.9L560.8,983.9L562.0,983.9L563.2,984.0L564.4,984.0L565.5,984.0L566.7,984.0L567.9,984.0L569.1,984.1L570.2,984.1L571.4,984.1L572.6,984.1L573.8,984.1L575.0,984.2L576.1,984.2L577.3,984.2L578.5,984.2L579.7,984.2L580.8,984.2L582.0,984.2L583.2,984.3L584.4,984.3L585.6,984.3L586.7,984.3L587.9,984.3L589.1,984.3L590.3,984.3L591.4,984.3L592.6,984.3L593.8,984.4L595.0,984.4L596.2,984.4L597.3,984.4L598.5,984.4L599.7,984.4L600.9,984.4L602.0,984.4L603.2,984.4L604.4,984.4L605.6,984.4L606.8,984.4L607.9,984.4L609.1,984.5L610.3,984.5L611.5,984.5L612.6,984.5L613.8,984.5L615.0,984.5L616.2,984.5L617.4,984.5L618.5,984.5L619.7,984.5L620.9,984.5L622.1,984.5L623.3,984.5L624.4,984.5L625.6,984.5L626.8,984.5L628.0,984.5L629.1,984.5L630.3,984.5L631.5,984.5L632.7,984.5L633.9,984.5L635.0,984.5L636.2,984.5L637.4,984.5L638.6,984.5L639.7,984.5L640.9,984.5L642.1,984.5L643.3,984.5L644.5,984.5L645.6,984.6L646.8,984.6L648.0,984.6L649.2,984.6" fill="none" stroke="#a374c4" stroke-width="1.1"/>
<path d="M222.7,981.3L223.9,981.3L225.1,981.3L226.3,981.3L227.4,981.3L228.6,981.3L229.8,981.3L231.0,981.3L232.2,981.3L233.3,981.3L234.5,981.3L235.7,981.3L236.9,981.3L238.0,981.3L239.2,981.3L240.4,981.3L241.6,981.3L242.8,981.3L243.9,981.3L245.1,981.3L246.3,981.3L247.5,981.3L248.6,981.3L249.8,981.3L251.0,981.3L252.2,981.3L253.4,981.3L254.5,981.3L255.7,981.3L256.9,981.3L258.1,981.3L259.2,981.3L260.4,981.3L261.6,981.3L262.8,981.3L264.0,981.3L265.1,981.3L266.3,981.3L267.5,981.3L268.7,981.3L269.9,981.3L271.0,981.3L272.2,981.3L273.4,981.3L274.6,981.3L275.7,981.3L276.9,981.3L278.1,981.3L279.3,981.3L280.5,981.3L281.6,981.3L282.8,981.3L284.0,981.3L285.2,981.3L286.3,981.3L287.5,981.3L288.7,981.3L289.9,981.3L291.1,981.3L292.2,981.3L293.4,981.3L294.6,981.3L295.8,981.3L296.9,981.3L298.1,981.3L299.3,981.3L300.5,981.3L301.7,981.3L302.8,981.3L304.0,981.3L305.2,981.3L306.4,981.3L307.5,981.3L308.7,981.3L309.9,981.3L311.1,981.3L312.3,981.3L313.4,981.3L314.6,981.3L315.8,981.3L317.0,981.3L318.1,981.3L319.3,981.3L320.5,981.3L321.7,981.3L322.9,981.3L324.0,981.3L325.2,981.3L326.4,981.3L327.6,981.3L328.8,981.3L329.9,981.3L331.1,981.3L332.3,981.3L333.5,981.3L334.6,981.3L335.8,981.3L337.0,981.3L338.2,981.3L339.4,981.3L340.5,981.3L341.7,981.3L342.9,981.3L344.1,981.3L345.2,981.3L346.4,981.3L347.6,981.3L348.8,981.3L350.0,981.3L351.1,981.3L352.3,981.3L353.5,981.3L354.7,981.3L355.8,981.3L357.0,981.3L358.2,981.3L359.4,981.3L360.6,981.3L361.7,981.3L362.9,981.3L364.1,981.3L365.3,981.3L366.4,981.3L367.6,981.3L368.8,981.3L370.0,981.3L371.2,981.3L372.3,981.3L373.5,981.3L374.7,981.3L375.9,981.3L377.1,981.3L378.2,981.3L379.4,981.3L380.6,981.3L381.8,981.3L382.9,981.3L384.1,981.3L385.3,981.3L386.5,981.3L387.7,981.3L388.8,981.3L390.0,981.3L391.2,981.3L392.4,981.3L393.5,981.3L394.7,981.3L395.9,981.3L397.1,981.3L398.3,981.3L399.4,981.3L400.6,981.3L401.8,981.3L403.0,981.3L404.1,981.3L405.3,981.3L406.5,981.3L407.7,981.3L408.9,981.3L410.0,981.3L411.2,981.3L412.4,981.3L413.6,981.3L414.7,981.3L415.9,981.3L417.1,981.3L418.3,981.3L419.5,981.3L420.6,981.3L421.8,981.3L423.0,981.3L424.2,981.3L425.3,981.3L426.5,981.3L427.7,981.3L428.9,981.3L430.1,981.3L431.2,981.2L432.4,981.2L433.6,981.2L434.8,981.2L436.0,981.2L437.1,981.1L438.3,981.1L439.5,981.1L440.7,981.0L441.8,981.0L443.0,980.9L444.2,980.9L445.4,980.8L446.6,980.7L447.7,980.7L448.9,980.6L450.1,980.5L451.3,980.3L452.4,980.2L453.6,980.0L454.8,979.9L456.0,979.7L457.2,979.4L458.3,979.2L459.5,978.9L460.7,978.6L461.9,978.3L463.0,977.9L464.2,977.5L465.4,977.1L466.6,976.6L467.8,976.1L468.9,975.5L470.1,974.9L471.3,974.2L472.5,973.4L473.6,972.6L474.8,971.7L476.0,970.8L477.2,969.8L478.4,968.6L479.5,967.5L480.7,966.2L481.9,964.8L483.1,963.3L484.2,961.8L485.4,960.1L486.6,958.3L487.8,956.4L489.0,954.4L490.1,952.3L491.3,950.1L492.5,947.7L493.7,945.2L494.9,942.6L496.0,939.9L497.2,937.1L498.4,934.1L499.6,931.0L500.7,927.8L501.9,924.5L503.1,921.0L504.3,917.5L505.5,913.8L506.6,910.1L507.8,906.2L509.0,902.3L510.2,898.3L511.3,894.2L512.5,890.1L513.7,885.9L514.9,881.7L516.1,877.4L517.2,873.1L518.4,868.9L519.6,864.6L520.8,860.4L521.9,856.1L523.1,852.0L524.3,847.9L525.5,843.9L526.7,840.0L527.8,836.2L529.0,832.5L530.2,829.0L531.4,825.6L532.5,822.4L533.7,819.3L534.9,816.5L536.1,813.8L537.3,811.4L538.4,809.2L539.6,807.3L540.8,805.6L542.0,804.1L543.1,802.9L544.3,802.0L545.5,801.3L546.7,801.0L547.9,800.8L549.0,801.0L550.2,801.5L551.4,802.2L552.6,803.2L553.8,804.4L554.9,805.9L556.1,807.7L557.3,809.7L558.5,812.0L559.6,814.4L560.8,817.1L562.0,820.0L563.2,823.1L564.4,826.4L565.5,829.9L566.7,833.5L567.9,837.2L569.1,841.0L570.2,845.0L571.4,849.1L572.6,853.2L573.8,857.4L575.0,861.7L576.1,866.0L577.3,870.3L578.5,874.6L579.7,879.0L580.8,883.3L582.0,887.5L583.2,891.8L584.4,896.0L585.6,900.1L586.7,904.2L587.9,908.1L589.1,912.0L590.3,915.8L591.4,919.5L592.6,923.1L593.8,926.6L595.0,929.9L596.2,933.2L597.3,936.3L598.5,939.3L599.7,942.2L600.9,944.9L602.0,947.6L603.2,950.1L604.4,952.5L605.6,954.8L606.8,956.9L607.9,958.9L609.1,960.9L610.3,962.7L611.5,964.4L612.6,966.0L613.8,967.5L615.0,968.9L616.2,970.2L617.4,971.4L618.5,972.5L619.7,973.6L620.9,974.5L622.1,975.4L623.3,976.3L624.4,977.0L625.6,977.8L626.8,978.4L628.0,979.0L629.1,979.5L630.3,980.0L631.5,980.5L632.7,980.9L633.9,981.3L635.0,981.6L636.2,982.0L637.4,982.2L638.6,982.5L639.7,982.7L640.9,982.9L642.1,983.1L643.3,983.3L644.5,983.4L645.6,983.6L646.8,983.7L648.0,983.8L649.2,983.9" fill="none" stroke="#c9a227" stroke-width="1.1"/>
<path d="M222.7,981.3L223.9,981.3L225.1,981.3L226.3,981.3L227.4,981.3L228.6,981.3L229.8,981.3L231.0,981.3L232.2,981.3L233.3,981.3L234.5,981.3L235.7,981.3L236.9,981.3L238.0,981.3L239.2,981.3L240.4,981.3L241.6,981.3L242.8,981.3L243.9,981.3L245.1,981.3L246.3,981.3L247.5,981.3L248.6,981.3L249.8,981.3L251.0,981.3L252.2,981.3L253.4,981.3L254.5,981.3L255.7,981.3L256.9,981.3L258.1,981.3L259.2,981.3L260.4,981.3L261.6,981.3L262.8,981.3L264.0,981.3L265.1,981.3L266.3,981.3L267.5,981.3L268.7,981.3L269.9,981.3L271.0,981.3L272.2,981.3L273.4,981.3L274.6,981.3L275.7,981.3L276.9,981.3L278.1,981.3L279.3,981.3L280.5,981.3L281.6,981.3L282.8,981.3L284.0,981.3L285.2,981.3L286.3,981.3L287.5,981.3L288.7,981.3L289.9,981.3L291.1,981.3L292.2,981.3L293.4,981.3L294.6,981.3L295.8,981.3L296.9,981.3L298.1,981.3L299.3,981.3L300.5,981.3L301.7,981.3L302.8,981.3L304.0,981.3L305.2,981.3L306.4,981.3L307.5,981.3L308.7,981.3L309.9,981.3L311.1,981.3L312.3,981.3L313.4,981.3L314.6,981.3L315.8,981.3L317.0,981.3L318.1,981.3L319.3,981.3L320.5,981.3L321.7,981.3L322.9,981.3L324.0,981.3L325.2,981.3L326.4,981.3L327.6,981.3L328.8,981.3L329.9,981.3L331.1,981.3L332.3,981.3L333.5,981.3L334.6,981.3L335.8,981.3L337.0,981.3L338.2,981.3L339.4,981.3L340.5,981.3L341.7,981.3L342.9,981.3L344.1,981.3L345.2,981.3L346.4,981.3L347.6,981.3L348.8,981.3L350.0,981.3L351.1,981.3L352.3,981.3L353.5,981.3L354.7,981.3L355.8,981.3L357.0,981.3L358.2,981.3L359.4,981.3L360.6,981.3L361.7,981.3L362.9,981.3L364.1,981.3L365.3,981.3L366.4,981.3L367.6,981.3L368.8,981.3L370.0,981.3L371.2,981.3L372.3,981.3L373.5,981.3L374.7,981.3L375.9,981.3L377.1,981.3L378.2,981.3L379.4,981.2L380.6,981.2L381.8,981.2L382.9,981.2L384.1,981.2L385.3,981.2L386.5,981.2L387.7,981.2L388.8,981.2L390.0,981.2L391.2,981.2L392.4,981.2L393.5,981.2L394.7,981.2L395.9,981.1L397.1,981.1L398.3,981.1L399.4,981.1L400.6,981.0L401.8,981.0L403.0,981.0L404.1,980.9L405.3,980.9L406.5,980.8L407.7,980.8L408.9,980.7L410.0,980.6L411.2,980.6L412.4,980.5L413.6,980.4L414.7,980.3L415.9,980.1L417.1,980.0L418.3,979.8L419.5,979.7L420.6,979.5L421.8,979.3L423.0,979.1L424.2,978.8L425.3,978.6L426.5,978.3L427.7,978.0L428.9,977.6L430.1,977.2L431.2,976.8L432.4,976.4L433.6,975.9L434.8,975.4L436.0,974.9L437.1,974.3L438.3,973.6L439.5,973.0L440.7,972.2L441.8,971.5L443.0,970.6L444.2,969.8L445.4,968.8L446.6,967.8L447.7,966.8L448.9,965.7L450.1,964.5L451.3,963.3L452.4,962.0L453.6,960.6L454.8,959.2L456.0,957.7L457.2,956.2L458.3,954.6L459.5,952.9L460.7,951.2L461.9,949.4L463.0,947.5L464.2,945.6L465.4,943.7L466.6,941.7L467.8,939.6L468.9,937.5L470.1,935.4L471.3,933.2L472.5,931.0L473.6,928.8L474.8,926.6L476.0,924.3L477.2,922.0L478.4,919.8L479.5,917.5L480.7,915.3L481.9,913.1L483.1,910.9L484.2,908.7L485.4,906.6L486.6,904.5L487.8,902.5L489.0,900.6L490.1,898.7L491.3,896.9L492.5,895.2L493.7,893.6L494.9,892.1L496.0,890.7L497.2,889.4L498.4,888.2L499.6,887.1L500.7,886.2L501.9,885.4L503.1,884.7L504.3,884.2L505.5,883.8L506.6,883.6L507.8,883.5L509.0,883.5L510.2,883.7L511.3,884.0L512.5,884.4L513.7,885.0L514.9,885.8L516.1,886.6L517.2,887.6L518.4,888.8L519.6,890.0L520.8,891.4L521.9,892.9L523.1,894.4L524.3,896.1L525.5,897.9L526.7,899.7L527.8,901.7L529.0,903.7L530.2,905.7L531.4,907.9L532.5,910.0L533.7,912.3L534.9,914.5L536.1,916.8L537.3,919.1L538.4,921.4L539.6,923.7L540.8,926.0L542.0,928.3L543.1,930.6L544.3,932.9L545.5,935.1L546.7,937.3L547.9,939.5L549.0,941.6L550.2,943.7L551.4,945.8L552.6,947.8L553.8,949.7L554.9,951.6L556.1,953.4L557.3,955.2L558.5,956.9L559.6,958.6L560.8,960.1L562.0,961.6L563.2,963.1L564.4,964.5L565.5,965.8L566.7,967.1L567.9,968.3L569.1,969.4L570.2,970.5L571.4,971.5L572.6,972.5L573.8,973.4L575.0,974.2L576.1,975.0L577.3,975.8L578.5,976.5L579.7,977.1L580.8,977.7L582.0,978.3L583.2,978.8L584.4,979.3L585.6,979.8L586.7,980.2L587.9,980.6L589.1,980.9L590.3,981.3L591.4,981.6L592.6,981.9L593.8,982.1L595.0,982.3L596.2,982.6L597.3,982.8L598.5,982.9L599.7,983.1L600.9,983.2L602.0,983.4L603.2,983.5L604.4,983.6L605.6,983.7L606.8,983.8L607.9,983.9L609.1,983.9L610.3,984.0L611.5,984.1L612.6,984.1L613.8,984.2L615.0,984.2L616.2,984.2L617.4,984.3L618.5,984.3L619.7,984.3L620.9,984.4L622.1,984.4L623.3,984.4L624.4,984.4L625.6,984.4L626.8,984.4L628.0,984.5L629.1,984.5L630.3,984.5L631.5,984.5L632.7,984.5L633.9,984.5L635.0,984.5L636.2,984.5L637.4,984.5L638.6,984.5L639.7,984.5L640.9,984.5L642.1,984.5L643.3,984.5L644.5,984.5L645.6,984.5L646.8,984.5L648.0,984.5L649.2,984.6" fill="none" stroke="#4db9c9" stroke-width="1.1"/>
</g>
<rect x="223.7" y="707.0" width="424.7" height="319.3" fill="none" stroke="#111" stroke-width="1.9"/>
<line x1="223.7" y1="1001.0" x2="229.9" y2="1001.0" stroke="#111" stroke-width="1.4"/>
<text x="218.0" y="1007.6" text-anchor="end">0</text>
<line x1="223.7" y1="952.0" x2="229.9" y2="952.0" stroke="#111" stroke-width="1.4"/>
<text x="218.0" y="958.6" text-anchor="end">1</text>
<line x1="223.7" y1="903.0" x2="229.9" y2="903.0" stroke="#111" stroke-width="1.4"/>
<text x="218.0" y="909.6" text-anchor="end">2</text>
<line x1="223.7" y1="854.0" x2="229.9" y2="854.0" stroke="#111" stroke-width="1.4"/>
<text x="218.0" y="860.6" text-anchor="end">3</text>
<line x1="223.7" y1="805.0" x2="229.9" y2="805.0" stroke="#111" stroke-width="1.4"/>
<text x="218.0" y="811.6" text-anchor="end">4</text>
<line x1="223.7" y1="756.0" x2="229.9" y2="756.0" stroke="#111" stroke-width="1.4"/>
<text x="218.0" y="762.6" text-anchor="end">5</text>
<text x="218.0" y="714.6" text-anchor="end">6</text>
<line x1="229.8" y1="1026.3" x2="229.8" y2="1020.1" stroke="#111" stroke-width="1.4"/>
<text x="230.6" y="1046.2" text-anchor="middle">290</text>
<line x1="288.7" y1="1026.3" x2="288.7" y2="1020.1" stroke="#111" stroke-width="1.4"/>
<text x="289.5" y="1046.2" text-anchor="middle">289</text>
<line x1="347.6" y1="1026.3" x2="347.6" y2="1020.1" stroke="#111" stroke-width="1.4"/>
<text x="348.4" y="1046.2" text-anchor="middle">288</text>
<line x1="406.5" y1="1026.3" x2="406.5" y2="1020.1" stroke="#111" stroke-width="1.4"/>
<text x="407.3" y="1046.2" text-anchor="middle">287</text>
<line x1="465.4" y1="1026.3" x2="465.4" y2="1020.1" stroke="#111" stroke-width="1.4"/>
<text x="466.2" y="1046.2" text-anchor="middle">286</text>
<line x1="524.3" y1="1026.3" x2="524.3" y2="1020.1" stroke="#111" stroke-width="1.4"/>
<text x="525.1" y="1046.2" text-anchor="middle">285</text>
<line x1="583.2" y1="1026.3" x2="583.2" y2="1020.1" stroke="#111" stroke-width="1.4"/>
<text x="584.0" y="1046.2" text-anchor="middle">284</text>
<line x1="642.1" y1="1026.3" x2="642.1" y2="1020.1" stroke="#111" stroke-width="1.4"/>
<text x="642.9" y="1046.2" text-anchor="middle">283</text>
<text x="439.4" y="1065.6" text-anchor="middle">Binding energy/eV</text>
<text x="416.1" y="1082.7" xml:space="preserve">a  0 month</text>
<text transform="translate(203.2,879.0) rotate(-90)" text-anchor="middle">Counts/10<tspan dy="-6.5" font-size="12">4</tspan></text>
<text x="259.8" y="900.4">O—C</text>
<text transform="translate(307.1,900.4) scale(1.76,1)">=</text>
<text x="327.1" y="900.4">O</text>
<text x="367.1" y="909.9">C—O</text>
<text x="407.6" y="784.1">C—C/C—H</text>
<text x="428.1" y="856.7">C—N</text>
<line x1="298.7" y1="972.6" x2="286.5" y2="914.0" stroke="#111" stroke-width="1.15"/>
<polygon points="284.5,904.2 291.5,915.0 286.3,912.8 282.3,916.9" fill="#111"/>
<line x1="424.1" y1="960.6" x2="388.4" y2="921.6" stroke="#111" stroke-width="1.15"/>
<polygon points="381.7,914.2 393.3,919.9 387.6,920.7 386.3,926.2" fill="#111"/>
<line x1="535.8" y1="854.2" x2="486.5" y2="799.0" stroke="#111" stroke-width="1.15"/>
<polygon points="479.8,791.5 491.3,797.3 485.7,798.1 484.3,803.6" fill="#111"/>
<line x1="490.2" y1="914.2" x2="447.1" y2="868.4" stroke="#111" stroke-width="1.15"/>
<polygon points="440.3,861.1 451.9,866.6 446.3,867.5 445.1,873.1" fill="#111"/>
<clipPath id="cp2"><rect x="223.7" y="1094.1" width="426.6" height="319.5"/></clipPath>
<path d="M220.9,1355.6h7.2v7.2h-7.2zM226.8,1352.8h7.2v7.2h-7.2zM232.7,1353.0h7.2v7.2h-7.2zM238.6,1351.2h7.2v7.2h-7.2zM244.5,1347.3h7.2v7.2h-7.2zM250.4,1345.0h7.2v7.2h-7.2zM256.3,1342.9h7.2v7.2h-7.2zM262.2,1341.9h7.2v7.2h-7.2zM268.1,1340.0h7.2v7.2h-7.2zM274.0,1339.5h7.2v7.2h-7.2zM279.9,1339.9h7.2v7.2h-7.2zM285.8,1341.9h7.2v7.2h-7.2zM291.7,1342.8h7.2v7.2h-7.2zM297.6,1345.0h7.2v7.2h-7.2zM303.6,1346.6h7.2v7.2h-7.2zM309.5,1348.7h7.2v7.2h-7.2zM315.4,1351.5h7.2v7.2h-7.2zM321.3,1355.1h7.2v7.2h-7.2zM327.2,1357.5h7.2v7.2h-7.2zM333.1,1359.7h7.2v7.2h-7.2zM339.0,1361.4h7.2v7.2h-7.2zM344.9,1362.0h7.2v7.2h-7.2zM350.8,1360.7h7.2v7.2h-7.2zM356.7,1360.0h7.2v7.2h-7.2zM362.6,1358.1h7.2v7.2h-7.2zM368.5,1354.0h7.2v7.2h-7.2zM374.4,1351.2h7.2v7.2h-7.2zM380.3,1346.5h7.2v7.2h-7.2zM386.2,1341.8h7.2v7.2h-7.2zM392.1,1336.0h7.2v7.2h-7.2zM398.0,1328.4h7.2v7.2h-7.2zM403.9,1321.7h7.2v7.2h-7.2zM409.8,1313.6h7.2v7.2h-7.2zM415.7,1305.3h7.2v7.2h-7.2zM421.6,1299.4h7.2v7.2h-7.2zM427.5,1294.3h7.2v7.2h-7.2zM433.4,1286.5h7.2v7.2h-7.2zM439.3,1281.0h7.2v7.2h-7.2zM445.2,1275.6h7.2v7.2h-7.2zM451.2,1269.3h7.2v7.2h-7.2zM457.1,1263.0h7.2v7.2h-7.2zM463.0,1254.8h7.2v7.2h-7.2zM468.9,1246.0h7.2v7.2h-7.2zM474.8,1232.4h7.2v7.2h-7.2zM480.7,1218.4h7.2v7.2h-7.2zM486.6,1204.7h7.2v7.2h-7.2zM492.5,1186.5h7.2v7.2h-7.2zM498.4,1169.5h7.2v7.2h-7.2zM504.3,1153.8h7.2v7.2h-7.2zM510.2,1139.1h7.2v7.2h-7.2zM516.1,1127.5h7.2v7.2h-7.2zM522.0,1118.6h7.2v7.2h-7.2zM527.9,1115.3h7.2v7.2h-7.2zM533.8,1115.1h7.2v7.2h-7.2zM539.7,1126.9h7.2v7.2h-7.2zM545.6,1141.0h7.2v7.2h-7.2zM551.5,1159.6h7.2v7.2h-7.2zM557.4,1182.7h7.2v7.2h-7.2zM563.3,1206.7h7.2v7.2h-7.2zM569.2,1230.8h7.2v7.2h-7.2zM575.1,1255.8h7.2v7.2h-7.2zM581.0,1279.2h7.2v7.2h-7.2zM586.9,1300.3h7.2v7.2h-7.2zM592.8,1317.5h7.2v7.2h-7.2zM598.8,1331.0h7.2v7.2h-7.2zM604.7,1343.7h7.2v7.2h-7.2zM610.6,1350.6h7.2v7.2h-7.2zM616.5,1358.6h7.2v7.2h-7.2zM622.4,1361.6h7.2v7.2h-7.2zM628.3,1366.2h7.2v7.2h-7.2zM634.2,1366.7h7.2v7.2h-7.2zM640.1,1368.6h7.2v7.2h-7.2zM646.0,1370.0h7.2v7.2h-7.2z" fill="#0a0a0a"/>
<g clip-path="url(#cp2)">
<path d="M223.3,1363.1L224.5,1362.7L225.7,1362.3L226.9,1361.8L228.0,1361.4L229.2,1360.9L230.4,1360.4L231.6,1359.9L232.8,1359.4L233.9,1358.9L235.1,1358.3L236.3,1357.8L237.5,1357.2L238.7,1356.7L239.8,1356.1L241.0,1355.5L242.2,1354.9L243.4,1354.3L244.6,1353.7L245.8,1353.1L246.9,1352.4L248.1,1351.8L249.3,1351.2L250.5,1350.6L251.7,1350.0L252.8,1349.4L254.0,1348.8L255.2,1348.2L256.4,1347.7L257.6,1347.1L258.7,1346.6L259.9,1346.1L261.1,1345.6L262.3,1345.1L263.5,1344.6L264.6,1344.2L265.8,1343.8L267.0,1343.4L268.2,1343.1L269.4,1342.8L270.5,1342.5L271.7,1342.3L272.9,1342.0L274.1,1341.9L275.3,1341.7L276.5,1341.6L277.6,1341.5L278.8,1341.5L280.0,1341.5L281.2,1341.5L282.4,1341.6L283.5,1341.7L284.7,1341.9L285.9,1342.0L287.1,1342.3L288.3,1342.5L289.4,1342.8L290.6,1343.1L291.8,1343.4L293.0,1343.8L294.2,1344.2L295.3,1344.6L296.5,1345.1L297.7,1345.6L298.9,1346.1L300.1,1346.6L301.2,1347.1L302.4,1347.7L303.6,1348.2L304.8,1348.8L306.0,1349.4L307.2,1350.0L308.3,1350.6L309.5,1351.2L310.7,1351.8L311.9,1352.4L313.1,1353.0L314.2,1353.6L315.4,1354.2L316.6,1354.8L317.8,1355.4L319.0,1355.9L320.1,1356.5L321.3,1357.1L322.5,1357.6L323.7,1358.1L324.9,1358.6L326.0,1359.1L327.2,1359.6L328.4,1360.1L329.6,1360.5L330.8,1360.9L331.9,1361.3L333.1,1361.7L334.3,1362.1L335.5,1362.4L336.7,1362.7L337.9,1363.0L339.0,1363.3L340.2,1363.5L341.4,1363.7L342.6,1363.9L343.8,1364.0L344.9,1364.2L346.1,1364.3L347.3,1364.3L348.5,1364.4L349.7,1364.4L350.8,1364.4L352.0,1364.4L353.2,1364.3L354.4,1364.2L355.6,1364.0L356.7,1363.9L357.9,1363.7L359.1,1363.5L360.3,1363.2L361.5,1362.9L362.6,1362.6L363.8,1362.2L365.0,1361.8L366.2,1361.4L367.4,1360.9L368.6,1360.4L369.7,1359.8L370.9,1359.2L372.1,1358.6L373.3,1357.9L374.5,1357.2L375.6,1356.5L376.8,1355.7L378.0,1354.9L379.2,1354.1L380.4,1353.2L381.5,1352.2L382.7,1351.3L383.9,1350.3L385.1,1349.2L386.3,1348.1L387.4,1347.0L388.6,1345.9L389.8,1344.7L391.0,1343.5L392.2,1342.3L393.4,1341.0L394.5,1339.7L395.7,1338.4L396.9,1337.1L398.1,1335.7L399.3,1334.3L400.4,1333.0L401.6,1331.5L402.8,1330.1L404.0,1328.7L405.2,1327.3L406.3,1325.9L407.5,1324.4L408.7,1323.0L409.9,1321.6L411.1,1320.1L412.2,1318.7L413.4,1317.3L414.6,1315.9L415.8,1314.5L417.0,1313.2L418.1,1311.8L419.3,1310.5L420.5,1309.2L421.7,1307.9L422.9,1306.6L424.1,1305.4L425.2,1304.1L426.4,1302.9L427.6,1301.7L428.8,1300.6L430.0,1299.4L431.1,1298.3L432.3,1297.2L433.5,1296.1L434.7,1295.0L435.9,1293.9L437.0,1292.9L438.2,1291.8L439.4,1290.8L440.6,1289.7L441.8,1288.7L442.9,1287.6L444.1,1286.6L445.3,1285.5L446.5,1284.4L447.7,1283.3L448.8,1282.2L450.0,1281.1L451.2,1279.9L452.4,1278.7L453.6,1277.5L454.8,1276.2L455.9,1274.8L457.1,1273.5L458.3,1272.0L459.5,1270.6L460.7,1269.0L461.8,1267.4L463.0,1265.7L464.2,1264.0L465.4,1262.2L466.6,1260.3L467.7,1258.4L468.9,1256.4L470.1,1254.3L471.3,1252.1L472.5,1249.9L473.6,1247.6L474.8,1245.2L476.0,1242.7L477.2,1240.1L478.4,1237.5L479.5,1234.8L480.7,1232.0L481.9,1229.2L483.1,1226.3L484.3,1223.3L485.5,1220.2L486.6,1217.1L487.8,1214.0L489.0,1210.8L490.2,1207.5L491.4,1204.2L492.5,1200.9L493.7,1197.5L494.9,1194.1L496.1,1190.7L497.3,1187.3L498.4,1183.9L499.6,1180.5L500.8,1177.1L502.0,1173.7L503.2,1170.3L504.3,1167.0L505.5,1163.7L506.7,1160.5L507.9,1157.3L509.1,1154.2L510.2,1151.2L511.4,1148.3L512.6,1145.5L513.8,1142.7L515.0,1140.1L516.2,1137.7L517.3,1135.3L518.5,1133.1L519.7,1131.1L520.9,1129.2L522.1,1127.5L523.2,1126.0L524.4,1124.6L525.6,1123.4L526.8,1122.5L528.0,1121.7L529.1,1121.2L530.3,1120.8L531.5,1120.7L532.7,1120.8L533.9,1121.1L535.0,1121.7L536.2,1122.5L537.4,1123.5L538.6,1124.7L539.8,1126.2L541.0,1127.9L542.1,1129.8L543.3,1131.9L544.5,1134.2L545.7,1136.8L546.9,1139.6L548.0,1142.5L549.2,1145.7L550.4,1149.1L551.6,1152.6L552.8,1156.3L553.9,1160.2L555.1,1164.2L556.3,1168.3L557.5,1172.6L558.7,1177.1L559.8,1181.6L561.0,1186.2L562.2,1190.9L563.4,1195.7L564.6,1200.6L565.7,1205.5L566.9,1210.4L568.1,1215.4L569.3,1220.4L570.5,1225.4L571.7,1230.5L572.8,1235.5L574.0,1240.4L575.2,1245.4L576.4,1250.3L577.6,1255.2L578.7,1260.0L579.9,1264.7L581.1,1269.4L582.3,1273.9L583.5,1278.4L584.6,1282.8L585.8,1287.1L587.0,1291.3L588.2,1295.4L589.4,1299.4L590.5,1303.2L591.7,1307.0L592.9,1310.6L594.1,1314.1L595.3,1317.4L596.4,1320.7L597.6,1323.8L598.8,1326.8L600.0,1329.7L601.2,1332.4L602.4,1335.1L603.5,1337.6L604.7,1340.0L605.9,1342.3L607.1,1344.4L608.3,1346.5L609.4,1348.4L610.6,1350.3L611.8,1352.0L613.0,1353.6L614.2,1355.2L615.3,1356.6L616.5,1358.0L617.7,1359.3L618.9,1360.5L620.1,1361.6L621.2,1362.7L622.4,1363.6L623.6,1364.5L624.8,1365.4L626.0,1366.2L627.1,1366.9L628.3,1367.6L629.5,1368.2L630.7,1368.8L631.9,1369.3L633.1,1369.8L634.2,1370.3L635.4,1370.7L636.6,1371.1L637.8,1371.4L639.0,1371.7L640.1,1372.0L641.3,1372.3L642.5,1372.5L643.7,1372.7L644.9,1372.9L646.0,1373.1L647.2,1373.3L648.4,1373.4L649.6,1373.6L650.8,1373.7" fill="none" stroke="#d6343a" stroke-width="1.3"/>
<path d="M223.3,1363.1L224.5,1362.7L225.7,1362.3L226.9,1361.8L228.0,1361.4L229.2,1360.9L230.4,1360.4L231.6,1359.9L232.8,1359.4L233.9,1358.9L235.1,1358.3L236.3,1357.8L237.5,1357.2L238.7,1356.7L239.8,1356.1L241.0,1355.5L242.2,1354.9L243.4,1354.3L244.6,1353.7L245.8,1353.1L246.9,1352.4L248.1,1351.8L249.3,1351.2L250.5,1350.6L251.7,1350.0L252.8,1349.4L254.0,1348.8L255.2,1348.2L256.4,1347.7L257.6,1347.1L258.7,1346.6L259.9,1346.1L261.1,1345.6L262.3,1345.1L263.5,1344.6L264.6,1344.2L265.8,1343.8L267.0,1343.4L268.2,1343.1L269.4,1342.8L270.5,1342.5L271.7,1342.3L272.9,1342.0L274.1,1341.9L275.3,1341.7L276.5,1341.6L277.6,1341.5L278.8,1341.5L280.0,1341.5L281.2,1341.5L282.4,1341.6L283.5,1341.7L284.7,1341.9L285.9,1342.0L287.1,1342.3L288.3,1342.5L289.4,1342.8L290.6,1343.1L291.8,1343.4L293.0,1343.8L294.2,1344.2L295.3,1344.7L296.5,1345.1L297.7,1345.6L298.9,1346.1L300.1,1346.6L301.2,1347.1L302.4,1347.7L303.6,1348.2L304.8,1348.8L306.0,1349.4L307.2,1350.0L308.3,1350.6L309.5,1351.2L310.7,1351.8L311.9,1352.5L313.1,1353.1L314.2,1353.7L315.4,1354.3L316.6,1354.9L317.8,1355.5L319.0,1356.1L320.1,1356.7L321.3,1357.2L322.5,1357.8L323.7,1358.4L324.9,1358.9L326.0,1359.4L327.2,1359.9L328.4,1360.4L329.6,1360.9L330.8,1361.4L331.9,1361.8L333.1,1362.3L334.3,1362.7L335.5,1363.1L336.7,1363.5L337.9,1363.8L339.0,1364.2L340.2,1364.5L341.4,1364.9L342.6,1365.2L343.8,1365.4L344.9,1365.7L346.1,1366.0L347.3,1366.2L348.5,1366.5L349.7,1366.7L350.8,1366.9L352.0,1367.1L353.2,1367.3L354.4,1367.4L355.6,1367.6L356.7,1367.7L357.9,1367.9L359.1,1368.0L360.3,1368.1L361.5,1368.2L362.6,1368.3L363.8,1368.4L365.0,1368.5L366.2,1368.6L367.4,1368.7L368.6,1368.7L369.7,1368.8L370.9,1368.9L372.1,1368.9L373.3,1369.0L374.5,1369.0L375.6,1369.0L376.8,1369.1L378.0,1369.1L379.2,1369.1L380.4,1369.2L381.5,1369.2L382.7,1369.2L383.9,1369.2L385.1,1369.3L386.3,1369.3L387.4,1369.3L388.6,1369.3L389.8,1369.3L391.0,1369.3L392.2,1369.4L393.4,1369.4L394.5,1369.4L395.7,1369.4L396.9,1369.4L398.1,1369.4L399.3,1369.4L400.4,1369.4L401.6,1369.4L402.8,1369.4L404.0,1369.5L405.2,1369.5L406.3,1369.5L407.5,1369.5L408.7,1369.5L409.9,1369.5L411.1,1369.5L412.2,1369.5L413.4,1369.5L414.6,1369.5L415.8,1369.5L417.0,1369.5L418.1,1369.5L419.3,1369.6L420.5,1369.6L421.7,1369.6L422.9,1369.6L424.1,1369.6L425.2,1369.6L426.4,1369.6L427.6,1369.6L428.8,1369.6L430.0,1369.6L431.1,1369.7L432.3,1369.7L433.5,1369.7L434.7,1369.7L435.9,1369.7L437.0,1369.7L438.2,1369.7L439.4,1369.7L440.6,1369.8L441.8,1369.8L442.9,1369.8L444.1,1369.8L445.3,1369.8L446.5,1369.8L447.7,1369.9L448.8,1369.9L450.0,1369.9L451.2,1369.9L452.4,1369.9L453.6,1370.0L454.8,1370.0L455.9,1370.0L457.1,1370.0L458.3,1370.1L459.5,1370.1L460.7,1370.1L461.8,1370.1L463.0,1370.2L464.2,1370.2L465.4,1370.2L466.6,1370.3L467.7,1370.3L468.9,1370.3L470.1,1370.3L471.3,1370.4L472.5,1370.4L473.6,1370.4L474.8,1370.5L476.0,1370.5L477.2,1370.6L478.4,1370.6L479.5,1370.6L480.7,1370.7L481.9,1370.7L483.1,1370.8L484.3,1370.8L485.5,1370.8L486.6,1370.9L487.8,1370.9L489.0,1371.0L490.2,1371.0L491.4,1371.1L492.5,1371.1L493.7,1371.2L494.9,1371.2L496.1,1371.3L497.3,1371.3L498.4,1371.4L499.6,1371.4L500.8,1371.5L502.0,1371.5L503.2,1371.6L504.3,1371.6L505.5,1371.7L506.7,1371.7L507.9,1371.8L509.1,1371.8L510.2,1371.9L511.4,1371.9L512.6,1372.0L513.8,1372.1L515.0,1372.1L516.2,1372.2L517.3,1372.2L518.5,1372.3L519.7,1372.3L520.9,1372.4L522.1,1372.4L523.2,1372.5L524.4,1372.5L525.6,1372.6L526.8,1372.6L528.0,1372.7L529.1,1372.7L530.3,1372.8L531.5,1372.8L532.7,1372.9L533.9,1372.9L535.0,1373.0L536.2,1373.0L537.4,1373.1L538.6,1373.1L539.8,1373.2L541.0,1373.2L542.1,1373.3L543.3,1373.3L544.5,1373.3L545.7,1373.4L546.9,1373.4L548.0,1373.5L549.2,1373.5L550.4,1373.5L551.6,1373.6L552.8,1373.6L553.9,1373.7L555.1,1373.7L556.3,1373.7L557.5,1373.8L558.7,1373.8L559.8,1373.8L561.0,1373.9L562.2,1373.9L563.4,1373.9L564.6,1373.9L565.7,1374.0L566.9,1374.0L568.1,1374.0L569.3,1374.0L570.5,1374.1L571.7,1374.1L572.8,1374.1L574.0,1374.1L575.2,1374.2L576.4,1374.2L577.6,1374.2L578.7,1374.2L579.9,1374.2L581.1,1374.3L582.3,1374.3L583.5,1374.3L584.6,1374.3L585.8,1374.3L587.0,1374.3L588.2,1374.4L589.4,1374.4L590.5,1374.4L591.7,1374.4L592.9,1374.4L594.1,1374.4L595.3,1374.4L596.4,1374.5L597.6,1374.5L598.8,1374.5L600.0,1374.5L601.2,1374.5L602.4,1374.5L603.5,1374.5L604.7,1374.5L605.9,1374.5L607.1,1374.5L608.3,1374.6L609.4,1374.6L610.6,1374.6L611.8,1374.6L613.0,1374.6L614.2,1374.6L615.3,1374.6L616.5,1374.6L617.7,1374.6L618.9,1374.6L620.1,1374.6L621.2,1374.6L622.4,1374.6L623.6,1374.6L624.8,1374.6L626.0,1374.6L627.1,1374.6L628.3,1374.7L629.5,1374.7L630.7,1374.7L631.9,1374.7L633.1,1374.7L634.2,1374.7L635.4,1374.7L636.6,1374.7L637.8,1374.7L639.0,1374.7L640.1,1374.7L641.3,1374.7L642.5,1374.7L643.7,1374.7L644.9,1374.7L646.0,1374.7L647.2,1374.7L648.4,1374.7L649.6,1374.7L650.8,1374.7" fill="none" stroke="#55b47c" stroke-width="1.1"/>
<path d="M223.3,1369.3L224.5,1369.3L225.7,1369.3L226.9,1369.3L228.0,1369.3L229.2,1369.3L230.4,1369.3L231.6,1369.3L232.8,1369.3L233.9,1369.3L235.1,1369.3L236.3,1369.3L237.5,1369.3L238.7,1369.3L239.8,1369.3L241.0,1369.3L242.2,1369.3L243.4,1369.3L244.6,1369.3L245.8,1369.3L246.9,1369.3L248.1,1369.3L249.3,1369.3L250.5,1369.3L251.7,1369.3L252.8,1369.3L254.0,1369.3L255.2,1369.3L256.4,1369.3L257.6,1369.3L258.7,1369.3L259.9,1369.3L261.1,1369.3L262.3,1369.3L263.5,1369.3L264.6,1369.3L265.8,1369.3L267.0,1369.3L268.2,1369.3L269.4,1369.3L270.5,1369.3L271.7,1369.3L272.9,1369.3L274.1,1369.3L275.3,1369.3L276.5,1369.3L277.6,1369.3L278.8,1369.3L280.0,1369.3L281.2,1369.3L282.4,1369.3L283.5,1369.3L284.7,1369.3L285.9,1369.3L287.1,1369.3L288.3,1369.3L289.4,1369.3L290.6,1369.3L291.8,1369.3L293.0,1369.3L294.2,1369.3L295.3,1369.3L296.5,1369.3L297.7,1369.3L298.9,1369.3L300.1,1369.3L301.2,1369.3L302.4,1369.3L303.6,1369.3L304.8,1369.3L306.0,1369.3L307.2,1369.3L308.3,1369.3L309.5,1369.3L310.7,1369.3L311.9,1369.3L313.1,1369.3L314.2,1369.3L315.4,1369.3L316.6,1369.2L317.8,1369.2L319.0,1369.2L320.1,1369.2L321.3,1369.2L322.5,1369.2L323.7,1369.1L324.9,1369.1L326.0,1369.1L327.2,1369.0L328.4,1369.0L329.6,1369.0L330.8,1368.9L331.9,1368.9L333.1,1368.8L334.3,1368.7L335.5,1368.7L336.7,1368.6L337.9,1368.5L339.0,1368.4L340.2,1368.3L341.4,1368.2L342.6,1368.1L343.8,1368.0L344.9,1367.8L346.1,1367.7L347.3,1367.5L348.5,1367.3L349.7,1367.1L350.8,1366.9L352.0,1366.7L353.2,1366.4L354.4,1366.1L355.6,1365.9L356.7,1365.5L357.9,1365.2L359.1,1364.9L360.3,1364.5L361.5,1364.1L362.6,1363.7L363.8,1363.2L365.0,1362.7L366.2,1362.2L367.4,1361.7L368.6,1361.1L369.7,1360.5L370.9,1359.9L372.1,1359.2L373.3,1358.5L374.5,1357.8L375.6,1357.0L376.8,1356.3L378.0,1355.4L379.2,1354.6L380.4,1353.7L381.5,1352.8L382.7,1351.8L383.9,1350.9L385.1,1349.8L386.3,1348.8L387.4,1347.7L388.6,1346.7L389.8,1345.6L391.0,1344.4L392.2,1343.3L393.4,1342.1L394.5,1340.9L395.7,1339.7L396.9,1338.5L398.1,1337.3L399.3,1336.1L400.4,1334.9L401.6,1333.7L402.8,1332.4L404.0,1331.2L405.2,1330.1L406.3,1328.9L407.5,1327.7L408.7,1326.6L409.9,1325.5L411.1,1324.4L412.2,1323.4L413.4,1322.4L414.6,1321.4L415.8,1320.5L417.0,1319.7L418.1,1318.8L419.3,1318.1L420.5,1317.4L421.7,1316.7L422.9,1316.2L424.1,1315.6L425.2,1315.2L426.4,1314.8L427.6,1314.5L428.8,1314.2L430.0,1314.1L431.1,1314.0L432.3,1314.0L433.5,1314.0L434.7,1314.1L435.9,1314.3L437.0,1314.6L438.2,1314.9L439.4,1315.3L440.6,1315.8L441.8,1316.3L442.9,1317.0L444.1,1317.6L445.3,1318.4L446.5,1319.1L447.7,1320.0L448.8,1320.9L450.0,1321.8L451.2,1322.8L452.4,1323.8L453.6,1324.9L454.8,1326.0L455.9,1327.1L457.1,1328.3L458.3,1329.5L459.5,1330.7L460.7,1331.9L461.8,1333.1L463.0,1334.4L464.2,1335.6L465.4,1336.9L466.6,1338.1L467.7,1339.4L468.9,1340.6L470.1,1341.8L471.3,1343.1L472.5,1344.3L473.6,1345.4L474.8,1346.6L476.0,1347.8L477.2,1348.9L478.4,1350.0L479.5,1351.1L480.7,1352.1L481.9,1353.1L483.1,1354.1L484.3,1355.1L485.5,1356.0L486.6,1356.9L487.8,1357.8L489.0,1358.6L490.2,1359.4L491.4,1360.2L492.5,1360.9L493.7,1361.7L494.9,1362.3L496.1,1363.0L497.3,1363.6L498.4,1364.2L499.6,1364.8L500.8,1365.3L502.0,1365.8L503.2,1366.3L504.3,1366.7L505.5,1367.2L506.7,1367.6L507.9,1368.0L509.1,1368.3L510.2,1368.7L511.4,1369.0L512.6,1369.3L513.8,1369.6L515.0,1369.8L516.2,1370.1L517.3,1370.3L518.5,1370.6L519.7,1370.8L520.9,1371.0L522.1,1371.2L523.2,1371.3L524.4,1371.5L525.6,1371.6L526.8,1371.8L528.0,1371.9L529.1,1372.1L530.3,1372.2L531.5,1372.3L532.7,1372.4L533.9,1372.5L535.0,1372.6L536.2,1372.7L537.4,1372.8L538.6,1372.8L539.8,1372.9L541.0,1373.0L542.1,1373.1L543.3,1373.1L544.5,1373.2L545.7,1373.3L546.9,1373.3L548.0,1373.4L549.2,1373.4L550.4,1373.5L551.6,1373.5L552.8,1373.6L553.9,1373.6L555.1,1373.6L556.3,1373.7L557.5,1373.7L558.7,1373.8L559.8,1373.8L561.0,1373.8L562.2,1373.9L563.4,1373.9L564.6,1373.9L565.7,1374.0L566.9,1374.0L568.1,1374.0L569.3,1374.0L570.5,1374.1L571.7,1374.1L572.8,1374.1L574.0,1374.1L575.2,1374.2L576.4,1374.2L577.6,1374.2L578.7,1374.2L579.9,1374.2L581.1,1374.3L582.3,1374.3L583.5,1374.3L584.6,1374.3L585.8,1374.3L587.0,1374.3L588.2,1374.4L589.4,1374.4L590.5,1374.4L591.7,1374.4L592.9,1374.4L594.1,1374.4L595.3,1374.4L596.4,1374.5L597.6,1374.5L598.8,1374.5L600.0,1374.5L601.2,1374.5L602.4,1374.5L603.5,1374.5L604.7,1374.5L605.9,1374.5L607.1,1374.5L608.3,1374.6L609.4,1374.6L610.6,1374.6L611.8,1374.6L613.0,1374.6L614.2,1374.6L615.3,1374.6L616.5,1374.6L617.7,1374.6L618.9,1374.6L620.1,1374.6L621.2,1374.6L622.4,1374.6L623.6,1374.6L624.8,1374.6L626.0,1374.6L627.1,1374.6L628.3,1374.7L629.5,1374.7L630.7,1374.7L631.9,1374.7L633.1,1374.7L634.2,1374.7L635.4,1374.7L636.6,1374.7L637.8,1374.7L639.0,1374.7L640.1,1374.7L641.3,1374.7L642.5,1374.7L643.7,1374.7L644.9,1374.7L646.0,1374.7L647.2,1374.7L648.4,1374.7L649.6,1374.7L650.8,1374.7" fill="none" stroke="#a374c4" stroke-width="1.1"/>
<path d="M223.3,1369.3L224.5,1369.3L225.7,1369.3L226.9,1369.3L228.0,1369.3L229.2,1369.3L230.4,1369.3L231.6,1369.3L232.8,1369.3L233.9,1369.3L235.1,1369.3L236.3,1369.3L237.5,1369.3L238.7,1369.3L239.8,1369.3L241.0,1369.3L242.2,1369.3L243.4,1369.3L244.6,1369.3L245.8,1369.3L246.9,1369.3L248.1,1369.3L249.3,1369.3L250.5,1369.3L251.7,1369.3L252.8,1369.3L254.0,1369.3L255.2,1369.3L256.4,1369.3L257.6,1369.3L258.7,1369.3L259.9,1369.3L261.1,1369.3L262.3,1369.3L263.5,1369.3L264.6,1369.3L265.8,1369.3L267.0,1369.3L268.2,1369.3L269.4,1369.3L270.5,1369.3L271.7,1369.3L272.9,1369.3L274.1,1369.3L275.3,1369.3L276.5,1369.3L277.6,1369.3L278.8,1369.3L280.0,1369.3L281.2,1369.3L282.4,1369.3L283.5,1369.3L284.7,1369.3L285.9,1369.3L287.1,1369.3L288.3,1369.3L289.4,1369.3L290.6,1369.3L291.8,1369.3L293.0,1369.3L294.2,1369.3L295.3,1369.3L296.5,1369.3L297.7,1369.3L298.9,1369.3L300.1,1369.3L301.2,1369.3L302.4,1369.3L303.6,1369.3L304.8,1369.3L306.0,1369.3L307.2,1369.3L308.3,1369.3L309.5,1369.3L310.7,1369.3L311.9,1369.3L313.1,1369.3L314.2,1369.3L315.4,1369.3L316.6,1369.3L317.8,1369.3L319.0,1369.3L320.1,1369.3L321.3,1369.3L322.5,1369.3L323.7,1369.3L324.9,1369.3L326.0,1369.3L327.2,1369.4L328.4,1369.4L329.6,1369.4L330.8,1369.4L331.9,1369.4L333.1,1369.4L334.3,1369.4L335.5,1369.4L336.7,1369.4L337.9,1369.4L339.0,1369.4L340.2,1369.4L341.4,1369.4L342.6,1369.4L343.8,1369.4L344.9,1369.4L346.1,1369.4L347.3,1369.4L348.5,1369.4L349.7,1369.4L350.8,1369.4L352.0,1369.4L353.2,1369.4L354.4,1369.4L355.6,1369.4L356.7,1369.4L357.9,1369.4L359.1,1369.4L360.3,1369.4L361.5,1369.4L362.6,1369.4L363.8,1369.4L365.0,1369.4L366.2,1369.4L367.4,1369.4L368.6,1369.4L369.7,1369.4L370.9,1369.4L372.1,1369.4L373.3,1369.4L374.5,1369.4L375.6,1369.4L376.8,1369.4L378.0,1369.4L379.2,1369.4L380.4,1369.4L381.5,1369.4L382.7,1369.4L383.9,1369.4L385.1,1369.4L386.3,1369.4L387.4,1369.4L388.6,1369.4L389.8,1369.4L391.0,1369.4L392.2,1369.4L393.4,1369.4L394.5,1369.4L395.7,1369.4L396.9,1369.4L398.1,1369.4L399.3,1369.4L400.4,1369.4L401.6,1369.4L402.8,1369.4L404.0,1369.4L405.2,1369.4L406.3,1369.4L407.5,1369.4L408.7,1369.4L409.9,1369.4L411.1,1369.3L412.2,1369.3L413.4,1369.3L414.6,1369.3L415.8,1369.3L417.0,1369.2L418.1,1369.2L419.3,1369.2L420.5,1369.1L421.7,1369.1L422.9,1369.0L424.1,1369.0L425.2,1368.9L426.4,1368.8L427.6,1368.7L428.8,1368.6L430.0,1368.5L431.1,1368.4L432.3,1368.3L433.5,1368.1L434.7,1367.9L435.9,1367.8L437.0,1367.6L438.2,1367.3L439.4,1367.1L440.6,1366.8L441.8,1366.5L442.9,1366.2L444.1,1365.8L445.3,1365.4L446.5,1365.0L447.7,1364.5L448.8,1364.0L450.0,1363.5L451.2,1362.9L452.4,1362.2L453.6,1361.5L454.8,1360.8L455.9,1360.0L457.1,1359.1L458.3,1358.2L459.5,1357.2L460.7,1356.1L461.8,1354.9L463.0,1353.7L464.2,1352.4L465.4,1351.0L466.6,1349.5L467.7,1347.9L468.9,1346.3L470.1,1344.5L471.3,1342.6L472.5,1340.6L473.6,1338.6L474.8,1336.4L476.0,1334.1L477.2,1331.7L478.4,1329.1L479.5,1326.5L480.7,1323.8L481.9,1320.9L483.1,1317.9L484.3,1314.8L485.5,1311.6L486.6,1308.3L487.8,1304.9L489.0,1301.3L490.2,1297.7L491.4,1293.9L492.5,1290.1L493.7,1286.2L494.9,1282.2L496.1,1278.1L497.3,1273.9L498.4,1269.6L499.6,1265.3L500.8,1261.0L502.0,1256.6L503.2,1252.2L504.3,1247.7L505.5,1243.3L506.7,1238.8L507.9,1234.3L509.1,1229.9L510.2,1225.5L511.4,1221.1L512.6,1216.8L513.8,1212.6L515.0,1208.4L516.2,1204.3L517.3,1200.4L518.5,1196.5L519.7,1192.8L520.9,1189.2L522.1,1185.8L523.2,1182.5L524.4,1179.4L525.6,1176.5L526.8,1173.8L528.0,1171.3L529.1,1169.0L530.3,1167.0L531.5,1165.2L532.7,1163.6L533.9,1162.2L535.0,1161.1L536.2,1160.2L537.4,1159.6L538.6,1159.3L539.8,1159.2L541.0,1159.4L542.1,1159.8L543.3,1160.5L544.5,1161.5L545.7,1162.6L546.9,1164.1L548.0,1165.8L549.2,1167.7L550.4,1169.9L551.6,1172.2L552.8,1174.8L553.9,1177.6L555.1,1180.6L556.3,1183.8L557.5,1187.1L558.7,1190.6L559.8,1194.3L561.0,1198.1L562.2,1202.0L563.4,1206.1L564.6,1210.2L565.7,1214.5L566.9,1218.8L568.1,1223.2L569.3,1227.6L570.5,1232.1L571.7,1236.6L572.8,1241.2L574.0,1245.7L575.2,1250.3L576.4,1254.8L577.6,1259.3L578.7,1263.8L579.9,1268.2L581.1,1272.5L582.3,1276.9L583.5,1281.1L584.6,1285.3L585.8,1289.3L587.0,1293.3L588.2,1297.2L589.4,1301.0L590.5,1304.7L591.7,1308.3L592.9,1311.8L594.1,1315.2L595.3,1318.5L596.4,1321.6L597.6,1324.6L598.8,1327.6L600.0,1330.4L601.2,1333.0L602.4,1335.6L603.5,1338.1L604.7,1340.4L605.9,1342.6L607.1,1344.8L608.3,1346.8L609.4,1348.7L610.6,1350.5L611.8,1352.2L613.0,1353.8L614.2,1355.4L615.3,1356.8L616.5,1358.1L617.7,1359.4L618.9,1360.6L620.1,1361.7L621.2,1362.7L622.4,1363.7L623.6,1364.6L624.8,1365.4L626.0,1366.2L627.1,1366.9L628.3,1367.6L629.5,1368.2L630.7,1368.8L631.9,1369.3L633.1,1369.8L634.2,1370.3L635.4,1370.7L636.6,1371.1L637.8,1371.4L639.0,1371.7L640.1,1372.0L641.3,1372.3L642.5,1372.5L643.7,1372.8L644.9,1373.0L646.0,1373.1L647.2,1373.3L648.4,1373.5L649.6,1373.6L650.8,1373.7" fill="none" stroke="#c9a227" stroke-width="1.1"/>
<path d="M223.3,1369.3L224.5,1369.3L225.7,1369.3L226.9,1369.3L228.0,1369.3L229.2,1369.3L230.4,1369.3L231.6,1369.3L232.8,1369.3L233.9,1369.3L235.1,1369.3L236.3,1369.3L237.5,1369.3L238.7,1369.3L239.8,1369.3L241.0,1369.3L242.2,1369.3L243.4,1369.3L244.6,1369.3L245.8,1369.3L246.9,1369.3L248.1,1369.3L249.3,1369.3L250.5,1369.3L251.7,1369.3L252.8,1369.3L254.0,1369.3L255.2,1369.3L256.4,1369.3L257.6,1369.3L258.7,1369.3L259.9,1369.3L261.1,1369.3L262.3,1369.3L263.5,1369.3L264.6,1369.3L265.8,1369.3L267.0,1369.3L268.2,1369.3L269.4,1369.3L270.5,1369.3L271.7,1369.3L272.9,1369.3L274.1,1369.3L275.3,1369.3L276.5,1369.3L277.6,1369.3L278.8,1369.3L280.0,1369.3L281.2,1369.3L282.4,1369.3L283.5,1369.3L284.7,1369.3L285.9,1369.3L287.1,1369.3L288.3,1369.3L289.4,1369.3L290.6,1369.3L291.8,1369.3L293.0,1369.3L294.2,1369.3L295.3,1369.3L296.5,1369.3L297.7,1369.3L298.9,1369.3L300.1,1369.3L301.2,1369.3L302.4,1369.3L303.6,1369.3L304.8,1369.3L306.0,1369.3L307.2,1369.3L308.3,1369.3L309.5,1369.3L310.7,1369.3L311.9,1369.3L313.1,1369.3L314.2,1369.3L315.4,1369.3L316.6,1369.3L317.8,1369.3L319.0,1369.3L320.1,1369.3L321.3,1369.3L322.5,1369.3L323.7,1369.3L324.9,1369.3L326.0,1369.3L327.2,1369.3L328.4,1369.4L329.6,1369.4L330.8,1369.4L331.9,1369.4L333.1,1369.4L334.3,1369.4L335.5,1369.4L336.7,1369.4L337.9,1369.4L339.0,1369.4L340.2,1369.4L341.4,1369.4L342.6,1369.4L343.8,1369.4L344.9,1369.4L346.1,1369.4L347.3,1369.4L348.5,1369.4L349.7,1369.4L350.8,1369.3L352.0,1369.3L353.2,1369.3L354.4,1369.3L355.6,1369.3L356.7,1369.3L357.9,1369.3L359.1,1369.3L360.3,1369.3L361.5,1369.3L362.6,1369.3L363.8,1369.3L365.0,1369.3L366.2,1369.3L367.4,1369.3L368.6,1369.3L369.7,1369.3L370.9,1369.3L372.1,1369.2L373.3,1369.2L374.5,1369.2L375.6,1369.2L376.8,1369.2L378.0,1369.1L379.2,1369.1L380.4,1369.1L381.5,1369.1L382.7,1369.0L383.9,1369.0L385.1,1368.9L386.3,1368.9L387.4,1368.8L388.6,1368.7L389.8,1368.7L391.0,1368.6L392.2,1368.5L393.4,1368.4L394.5,1368.3L395.7,1368.2L396.9,1368.1L398.1,1367.9L399.3,1367.8L400.4,1367.6L401.6,1367.4L402.8,1367.2L404.0,1367.0L405.2,1366.8L406.3,1366.6L407.5,1366.3L408.7,1366.0L409.9,1365.7L411.1,1365.4L412.2,1365.0L413.4,1364.7L414.6,1364.2L415.8,1363.8L417.0,1363.4L418.1,1362.9L419.3,1362.4L420.5,1361.8L421.7,1361.2L422.9,1360.6L424.1,1359.9L425.2,1359.2L426.4,1358.5L427.6,1357.8L428.8,1356.9L430.0,1356.1L431.1,1355.2L432.3,1354.3L433.5,1353.3L434.7,1352.3L435.9,1351.3L437.0,1350.2L438.2,1349.0L439.4,1347.9L440.6,1346.6L441.8,1345.4L442.9,1344.1L444.1,1342.8L445.3,1341.4L446.5,1340.0L447.7,1338.5L448.8,1337.1L450.0,1335.6L451.2,1334.1L452.4,1332.5L453.6,1330.9L454.8,1329.4L455.9,1327.8L457.1,1326.1L458.3,1324.5L459.5,1322.9L460.7,1321.3L461.8,1319.6L463.0,1318.0L464.2,1316.4L465.4,1314.8L466.6,1313.2L467.7,1311.7L468.9,1310.2L470.1,1308.7L471.3,1307.2L472.5,1305.8L473.6,1304.5L474.8,1303.1L476.0,1301.9L477.2,1300.7L478.4,1299.6L479.5,1298.5L480.7,1297.5L481.9,1296.6L483.1,1295.7L484.3,1295.0L485.5,1294.3L486.6,1293.7L487.8,1293.2L489.0,1292.7L490.2,1292.4L491.4,1292.2L492.5,1292.0L493.7,1292.0L494.9,1292.0L496.1,1292.2L497.3,1292.4L498.4,1292.8L499.6,1293.2L500.8,1293.7L502.0,1294.3L503.2,1295.0L504.3,1295.8L505.5,1296.6L506.7,1297.6L507.9,1298.6L509.1,1299.7L510.2,1300.8L511.4,1302.1L512.6,1303.4L513.8,1304.7L515.0,1306.1L516.2,1307.6L517.3,1309.1L518.5,1310.6L519.7,1312.2L520.9,1313.8L522.1,1315.4L523.2,1317.1L524.4,1318.7L525.6,1320.4L526.8,1322.1L528.0,1323.8L529.1,1325.5L530.3,1327.3L531.5,1328.9L532.7,1330.6L533.9,1332.3L535.0,1334.0L536.2,1335.6L537.4,1337.2L538.6,1338.8L539.8,1340.4L541.0,1341.9L542.1,1343.4L543.3,1344.9L544.5,1346.3L545.7,1347.7L546.9,1349.0L548.0,1350.3L549.2,1351.6L550.4,1352.8L551.6,1354.0L552.8,1355.2L553.9,1356.3L555.1,1357.3L556.3,1358.3L557.5,1359.3L558.7,1360.2L559.8,1361.1L561.0,1362.0L562.2,1362.8L563.4,1363.6L564.6,1364.3L565.7,1365.0L566.9,1365.6L568.1,1366.3L569.3,1366.8L570.5,1367.4L571.7,1367.9L572.8,1368.4L574.0,1368.9L575.2,1369.3L576.4,1369.7L577.6,1370.1L578.7,1370.4L579.9,1370.8L581.1,1371.1L582.3,1371.4L583.5,1371.6L584.6,1371.9L585.8,1372.1L587.0,1372.3L588.2,1372.5L589.4,1372.7L590.5,1372.9L591.7,1373.0L592.9,1373.2L594.1,1373.3L595.3,1373.4L596.4,1373.5L597.6,1373.6L598.8,1373.7L600.0,1373.8L601.2,1373.9L602.4,1374.0L603.5,1374.0L604.7,1374.1L605.9,1374.1L607.1,1374.2L608.3,1374.2L609.4,1374.3L610.6,1374.3L611.8,1374.4L613.0,1374.4L614.2,1374.4L615.3,1374.4L616.5,1374.5L617.7,1374.5L618.9,1374.5L620.1,1374.5L621.2,1374.5L622.4,1374.6L623.6,1374.6L624.8,1374.6L626.0,1374.6L627.1,1374.6L628.3,1374.6L629.5,1374.6L630.7,1374.6L631.9,1374.6L633.1,1374.6L634.2,1374.7L635.4,1374.7L636.6,1374.7L637.8,1374.7L639.0,1374.7L640.1,1374.7L641.3,1374.7L642.5,1374.7L643.7,1374.7L644.9,1374.7L646.0,1374.7L647.2,1374.7L648.4,1374.7L649.6,1374.7L650.8,1374.7" fill="none" stroke="#4db9c9" stroke-width="1.1"/>
</g>
<rect x="223.7" y="1094.1" width="426.6" height="319.5" fill="none" stroke="#111" stroke-width="1.9"/>
<line x1="223.7" y1="1389.8" x2="229.9" y2="1389.8" stroke="#111" stroke-width="1.4"/>
<text x="218.0" y="1396.4" text-anchor="end">0</text>
<line x1="223.7" y1="1340.5" x2="229.9" y2="1340.5" stroke="#111" stroke-width="1.4"/>
<text x="218.0" y="1347.1" text-anchor="end">1</text>
<line x1="223.7" y1="1291.2" x2="229.9" y2="1291.2" stroke="#111" stroke-width="1.4"/>
<text x="218.0" y="1297.8" text-anchor="end">2</text>
<line x1="223.7" y1="1241.9" x2="229.9" y2="1241.9" stroke="#111" stroke-width="1.4"/>
<text x="218.0" y="1248.5" text-anchor="end">3</text>
<line x1="223.7" y1="1192.6" x2="229.9" y2="1192.6" stroke="#111" stroke-width="1.4"/>
<text x="218.0" y="1199.2" text-anchor="end">4</text>
<line x1="223.7" y1="1143.3" x2="229.9" y2="1143.3" stroke="#111" stroke-width="1.4"/>
<text x="218.0" y="1149.9" text-anchor="end">5</text>
<text x="218.0" y="1101.7" text-anchor="end">6</text>
<line x1="230.4" y1="1413.6" x2="230.4" y2="1407.4" stroke="#111" stroke-width="1.4"/>
<text x="231.2" y="1433.6" text-anchor="middle">290</text>
<line x1="289.4" y1="1413.6" x2="289.4" y2="1407.4" stroke="#111" stroke-width="1.4"/>
<text x="290.2" y="1433.6" text-anchor="middle">289</text>
<line x1="348.5" y1="1413.6" x2="348.5" y2="1407.4" stroke="#111" stroke-width="1.4"/>
<text x="349.3" y="1433.6" text-anchor="middle">288</text>
<line x1="407.5" y1="1413.6" x2="407.5" y2="1407.4" stroke="#111" stroke-width="1.4"/>
<text x="408.3" y="1433.6" text-anchor="middle">287</text>
<line x1="466.6" y1="1413.6" x2="466.6" y2="1407.4" stroke="#111" stroke-width="1.4"/>
<text x="467.4" y="1433.6" text-anchor="middle">286</text>
<line x1="525.6" y1="1413.6" x2="525.6" y2="1407.4" stroke="#111" stroke-width="1.4"/>
<text x="526.4" y="1433.6" text-anchor="middle">285</text>
<line x1="584.6" y1="1413.6" x2="584.6" y2="1407.4" stroke="#111" stroke-width="1.4"/>
<text x="585.4" y="1433.6" text-anchor="middle">284</text>
<line x1="643.7" y1="1413.6" x2="643.7" y2="1407.4" stroke="#111" stroke-width="1.4"/>
<text x="644.5" y="1433.6" text-anchor="middle">283</text>
<text x="445.7" y="1450.6" text-anchor="middle">Binding energy/eV</text>
<text x="410.4" y="1466.8" xml:space="preserve">b  12 months</text>
<text transform="translate(203.2,1242.0) rotate(-90)" text-anchor="middle">Counts/10<tspan dy="-6.5" font-size="12">4</tspan></text>
<text x="251.8" y="1305.3">O—C</text>
<text transform="translate(299.1,1305.3) scale(1.76,1)">=</text>
<text x="319.1" y="1305.3">O</text>
<text x="368.0" y="1306.3">C—O</text>
<text x="397.5" y="1160.0">C—C/C—H</text>
<text x="404.9" y="1258.2">C—N</text>
<line x1="285.8" y1="1354.3" x2="278.4" y2="1317.0" stroke="#111" stroke-width="1.15"/>
<polygon points="276.5,1307.2 283.4,1318.1 278.2,1315.8 274.2,1319.9" fill="#111"/>
<line x1="415.0" y1="1334.8" x2="396.3" y2="1312.1" stroke="#111" stroke-width="1.15"/>
<polygon points="389.9,1304.4 401.2,1310.7 395.5,1311.2 393.9,1316.6" fill="#111"/>
<line x1="529.2" y1="1202.4" x2="487.3" y2="1169.9" stroke="#111" stroke-width="1.15"/>
<polygon points="479.4,1163.8 491.8,1167.4 486.4,1169.2 486.0,1174.9" fill="#111"/>
<line x1="474.6" y1="1315.2" x2="434.9" y2="1267.1" stroke="#111" stroke-width="1.15"/>
<polygon points="428.5,1259.4 439.8,1265.7 434.1,1266.2 432.5,1271.6" fill="#111"/>
<path d="M868.8,752.7C875.8,753.1 894.9,754.3 911.1,755.1C927.3,755.9 954.6,756.8 965.8,757.4C977.0,758.0 973.3,757.7 978.5,758.6C983.8,759.4 992.5,760.9 997.5,762.7C1002.6,764.5 1005.8,766.7 1008.9,769.4C1012.1,772.1 1014.6,776.2 1016.5,778.9C1018.4,781.6 1018.7,782.5 1020.3,785.5C1021.9,788.5 1024.3,793.6 1026.0,796.9C1027.8,800.2 1028.4,801.5 1030.8,805.5C1033.1,809.4 1036.6,814.7 1040.0,820.7C1043.4,826.7 1047.6,834.0 1051.4,841.6C1055.2,849.2 1059.6,858.3 1062.8,866.2C1066.0,874.2 1068.3,882.4 1070.4,889.0C1072.4,895.7 1073.6,900.8 1075.1,906.1C1076.7,911.5 1078.1,917.1 1079.9,921.3C1081.6,925.6 1083.8,929.4 1085.6,931.8C1087.3,934.2 1087.5,934.4 1090.3,935.6C1093.2,936.8 1098.4,938.0 1102.7,939.0C1107.0,939.9 1111.4,940.7 1116.0,941.3C1120.5,941.8 1124.8,941.7 1129.8,942.2C1134.9,942.8 1142.3,943.7 1146.4,944.7C1150.4,945.6 1151.1,946.5 1154.0,947.9C1156.8,949.3 1160.3,951.7 1163.5,953.0C1166.6,954.4 1168.9,954.8 1173.0,956.1C1177.0,957.4 1184.8,960.4 1187.8,960.6C1190.8,960.9 1187.8,956.9 1191.0,957.4C1194.2,957.9 1201.9,962.1 1207.1,963.7C1212.4,965.3 1217.0,965.7 1222.3,966.9C1227.7,968.1 1233.4,969.9 1239.4,971.1C1245.4,972.3 1252.1,972.9 1258.4,974.1C1264.8,975.3 1272.5,977.2 1277.4,978.3C1282.3,979.4 1285.5,980.7 1287.9,981.0C1290.2,981.3 1291.0,980.3 1291.7,980.2" fill="none" stroke="#111" stroke-width="1.2"/>
<path d="M868.8,750.4C875.8,750.9 894.9,752.5 911.1,753.2C927.3,753.9 952.7,754.1 965.8,754.6C978.9,755.0 982.7,755.0 989.9,756.1C997.1,757.1 1003.9,759.3 1008.9,760.8C1014.0,762.4 1015.1,761.9 1020.3,765.6C1025.5,769.2 1034.8,777.6 1040.0,782.7C1045.2,787.7 1047.6,790.9 1051.4,796.0C1055.2,801.0 1058.8,806.7 1062.8,813.1C1066.7,819.4 1071.3,826.4 1075.1,834.0C1078.9,841.6 1082.6,852.6 1085.6,858.7C1088.6,864.7 1090.3,866.9 1093.2,870.0C1096.0,873.2 1098.9,875.4 1102.7,877.6C1106.5,879.9 1111.4,882.1 1116.0,883.7C1120.5,885.3 1124.8,886.2 1129.8,887.1C1134.9,888.1 1142.3,888.8 1146.4,889.6C1150.4,890.4 1151.4,890.8 1154.0,891.9C1156.5,893.0 1158.4,895.2 1161.6,896.3C1164.7,897.4 1169.1,897.9 1173.0,898.5C1176.8,899.1 1178.4,899.3 1184.7,899.9C1191.1,900.4 1201.8,901.3 1210.9,902.0C1220.1,902.6 1231.5,903.2 1239.4,903.9C1247.3,904.6 1252.1,905.2 1258.4,906.1C1264.8,907.1 1271.9,908.6 1277.4,909.6C1283.0,910.5 1289.3,911.5 1291.7,911.8" fill="none" stroke="#c4242c" stroke-width="1.2"/>
<rect x="868.8" y="732.9" width="425.7" height="319.9" fill="none" stroke="#111" stroke-width="1.9"/>
<line x1="868.8" y1="751.3" x2="875.1" y2="751.3" stroke="#111" stroke-width="1.4"/>
<text x="862.9" y="757.9" text-anchor="end">100</text>
<line x1="868.8" y1="788.9" x2="875.1" y2="788.9" stroke="#111" stroke-width="1.4"/>
<text x="862.9" y="795.5" text-anchor="end">90</text>
<line x1="868.8" y1="826.6" x2="875.1" y2="826.6" stroke="#111" stroke-width="1.4"/>
<text x="862.9" y="833.2" text-anchor="end">80</text>
<line x1="868.8" y1="864.2" x2="875.1" y2="864.2" stroke="#111" stroke-width="1.4"/>
<text x="862.9" y="870.9" text-anchor="end">70</text>
<line x1="868.8" y1="901.9" x2="875.1" y2="901.9" stroke="#111" stroke-width="1.4"/>
<text x="862.9" y="908.5" text-anchor="end">60</text>
<line x1="868.8" y1="939.5" x2="875.1" y2="939.5" stroke="#111" stroke-width="1.4"/>
<text x="862.9" y="946.1" text-anchor="end">50</text>
<line x1="868.8" y1="977.2" x2="875.1" y2="977.2" stroke="#111" stroke-width="1.4"/>
<text x="862.9" y="983.8" text-anchor="end">40</text>
<line x1="868.8" y1="1014.8" x2="875.1" y2="1014.8" stroke="#111" stroke-width="1.4"/>
<text x="862.9" y="1021.4" text-anchor="end">30</text>
<text x="862.9" y="1059.1" text-anchor="end">20</text>
<line x1="911.1" y1="1052.8" x2="911.1" y2="1046.5" stroke="#111" stroke-width="1.4"/>
<text x="914.5" y="1071.6" text-anchor="middle">100</text>
<line x1="965.8" y1="1052.8" x2="965.8" y2="1046.5" stroke="#111" stroke-width="1.4"/>
<text x="969.2" y="1071.6" text-anchor="middle">200</text>
<line x1="1020.5" y1="1052.8" x2="1020.5" y2="1046.5" stroke="#111" stroke-width="1.4"/>
<text x="1023.9" y="1071.6" text-anchor="middle">300</text>
<line x1="1075.3" y1="1052.8" x2="1075.3" y2="1046.5" stroke="#111" stroke-width="1.4"/>
<text x="1078.7" y="1071.6" text-anchor="middle">400</text>
<line x1="1130.0" y1="1052.8" x2="1130.0" y2="1046.5" stroke="#111" stroke-width="1.4"/>
<text x="1133.4" y="1071.6" text-anchor="middle">500</text>
<line x1="1184.7" y1="1052.8" x2="1184.7" y2="1046.5" stroke="#111" stroke-width="1.4"/>
<text x="1188.1" y="1071.6" text-anchor="middle">600</text>
<line x1="1239.4" y1="1052.8" x2="1239.4" y2="1046.5" stroke="#111" stroke-width="1.4"/>
<text x="1242.8" y="1071.6" text-anchor="middle">700</text>
<text x="1297.5" y="1071.6" text-anchor="middle">800</text>
<text x="1013.0" y="1090.4">Temperature/℃</text>
<text transform="translate(835.6,883.8) rotate(-90)" text-anchor="middle">Weight loss/%</text>
<line x1="1137.8" y1="754.2" x2="1169.2" y2="754.2" stroke="#c4242c" stroke-width="1.2"/>
<text x="1174.3" y="758.9">0 month</text>
<line x1="1137.8" y1="771.3" x2="1169.2" y2="771.3" stroke="#111" stroke-width="1.2"/>
<text x="1175.6" y="776.4">12 months</text>
<path d="M884.5,1298.8C884.7,1296.5 885.2,1288.8 886.0,1285.5C886.7,1282.1 887.7,1280.4 888.8,1278.8C889.9,1277.2 890.6,1276.4 892.6,1276.0C894.7,1275.6 896.9,1276.3 901.2,1276.5C905.4,1276.8 913.2,1277.5 918.3,1277.5C923.3,1277.5 925.5,1276.7 931.6,1276.4C937.6,1276.0 946.1,1275.6 954.3,1275.4C962.6,1275.2 975.2,1275.3 980.9,1275.4C986.6,1275.5 986.0,1275.6 988.5,1276.0C991.1,1276.4 993.0,1276.6 996.1,1277.9C999.3,1279.1 1003.7,1281.0 1007.5,1283.6C1011.3,1286.1 1015.4,1290.9 1018.9,1293.1C1022.4,1295.3 1025.3,1294.7 1028.4,1296.9C1031.6,1299.1 1035.1,1302.9 1037.9,1306.4C1040.8,1309.8 1043.0,1313.0 1045.5,1317.8C1048.1,1322.5 1050.7,1330.3 1053.1,1334.9C1055.5,1339.4 1057.9,1342.1 1060.0,1345.3C1062.1,1348.5 1063.8,1350.8 1065.7,1353.8C1067.6,1356.9 1069.5,1359.9 1071.4,1363.3C1073.3,1366.8 1075.5,1371.6 1077.1,1374.7C1078.7,1377.9 1079.3,1379.5 1080.9,1382.3C1082.5,1385.2 1084.4,1388.0 1086.6,1391.8C1088.8,1395.6 1092.0,1400.7 1094.2,1405.1C1096.4,1409.6 1098.1,1414.3 1099.9,1418.4C1101.6,1422.5 1103.4,1426.7 1104.6,1429.8C1105.9,1433.0 1106.8,1435.8 1107.5,1437.4C1108.2,1439.0 1108.4,1439.6 1109.0,1439.3C1109.6,1439.0 1110.4,1438.4 1111.3,1435.5C1112.1,1432.7 1113.2,1427.6 1114.1,1422.2C1115.1,1416.8 1116.0,1409.9 1117.0,1403.2C1117.9,1396.6 1118.7,1389.6 1119.8,1382.3C1120.9,1375.1 1122.2,1366.2 1123.6,1359.5C1125.1,1352.9 1126.6,1348.1 1128.4,1342.5C1130.1,1336.8 1132.2,1330.1 1134.1,1325.4C1136.0,1320.6 1137.9,1317.0 1139.8,1314.0C1141.7,1311.0 1143.6,1309.5 1145.5,1307.3C1147.4,1305.1 1149.0,1303.2 1151.2,1300.7C1153.4,1298.1 1156.2,1294.3 1158.8,1292.1C1161.3,1289.9 1164.1,1288.6 1166.4,1287.4C1168.6,1286.2 1170.5,1285.4 1172.1,1284.9C1173.6,1284.4 1174.6,1284.3 1175.9,1284.5C1177.1,1284.8 1178.4,1285.0 1179.7,1286.4C1180.9,1287.8 1182.3,1290.4 1183.5,1293.1C1184.6,1295.8 1185.4,1299.9 1186.3,1302.6C1187.3,1305.3 1188.2,1307.8 1189.2,1309.2C1190.1,1310.6 1191.1,1311.1 1192.0,1311.1C1193.0,1311.1 1193.9,1310.6 1194.9,1309.2C1195.8,1307.8 1196.6,1305.3 1197.7,1302.6C1198.8,1299.9 1200.1,1295.6 1201.5,1293.1C1202.9,1290.5 1204.5,1288.9 1206.2,1287.4C1208.0,1285.9 1209.4,1284.9 1211.9,1284.1C1214.5,1283.3 1218.3,1283.2 1221.4,1282.6C1224.6,1282.1 1227.8,1281.3 1230.9,1280.7C1234.1,1280.2 1236.6,1279.7 1240.4,1279.4C1244.2,1279.0 1249.0,1278.7 1253.7,1278.6C1258.5,1278.6 1263.9,1278.9 1268.9,1279.2C1274.0,1279.5 1279.4,1279.6 1284.1,1280.2C1288.9,1280.7 1293.0,1281.7 1297.4,1282.6C1301.8,1283.6 1308.2,1285.3 1310.3,1285.8" fill="none" stroke="#111" stroke-width="1.2"/>
<path d="M884.1,1454.5C884.1,1443.7 884.3,1407.7 884.5,1389.9C884.6,1372.2 884.6,1360.2 885.0,1348.1C885.4,1336.1 886.1,1325.7 886.9,1317.8C887.7,1309.8 888.7,1304.8 889.8,1300.7C890.9,1296.5 892.5,1296.2 893.6,1293.1C894.7,1289.9 895.2,1284.4 896.4,1281.7C897.7,1279.0 899.1,1277.9 901.2,1276.9C903.2,1276.0 905.9,1275.9 908.8,1276.0C911.6,1276.1 914.5,1277.1 918.3,1277.5C922.1,1277.9 927.4,1278.5 931.6,1278.3C935.7,1278.0 939.2,1276.5 943.0,1276.0C946.8,1275.4 949.6,1275.1 954.3,1275.0C959.1,1274.9 967.0,1275.1 971.4,1275.4C975.9,1275.7 977.8,1275.9 980.9,1276.9C984.1,1278.0 987.3,1280.1 990.4,1281.7C993.6,1283.3 996.8,1284.7 999.9,1286.4C1003.1,1288.2 1006.6,1289.9 1009.4,1292.1C1012.3,1294.3 1014.8,1296.7 1017.0,1299.7C1019.2,1302.7 1020.8,1305.3 1022.7,1310.2C1024.6,1315.1 1026.5,1321.6 1028.4,1329.2C1030.3,1336.8 1032.2,1346.6 1034.1,1355.7C1036.0,1364.9 1037.9,1376.0 1039.8,1384.2C1041.7,1392.5 1043.8,1400.7 1045.5,1405.1C1047.3,1409.6 1047.9,1410.2 1050.3,1410.8C1052.7,1411.5 1057.7,1409.3 1060.0,1408.9C1062.3,1408.5 1062.5,1408.0 1063.8,1408.4C1065.1,1408.7 1066.3,1409.1 1067.6,1410.8C1068.9,1412.5 1070.1,1415.3 1071.4,1418.4C1072.7,1421.6 1073.9,1425.4 1075.2,1429.8C1076.5,1434.3 1077.4,1438.7 1079.0,1445.0C1080.6,1451.3 1082.8,1460.5 1084.7,1467.8C1086.6,1475.1 1088.8,1484.0 1090.4,1488.7C1092.0,1493.4 1093.1,1494.7 1094.2,1496.3C1095.3,1497.9 1096.1,1498.4 1097.0,1498.2C1098.0,1498.0 1098.9,1497.6 1099.9,1495.3C1100.8,1493.1 1101.8,1489.8 1102.7,1484.9C1103.7,1480.0 1104.5,1473.8 1105.6,1465.9C1106.7,1458.0 1108.1,1448.5 1109.4,1437.4C1110.6,1426.3 1111.9,1412.1 1113.2,1399.4C1114.4,1386.8 1115.7,1372.5 1117.0,1361.4C1118.2,1350.4 1119.4,1341.8 1120.8,1333.0C1122.2,1324.1 1123.9,1314.4 1125.5,1308.3C1127.1,1302.1 1128.5,1298.9 1130.3,1295.9C1132.0,1292.9 1133.8,1291.8 1136.0,1290.2C1138.2,1288.6 1141.0,1287.6 1143.6,1286.4C1146.1,1285.2 1148.6,1283.9 1151.2,1283.0C1153.7,1282.1 1156.5,1281.5 1158.8,1281.3C1161.0,1281.1 1162.4,1281.2 1164.5,1281.7C1166.5,1282.1 1168.9,1282.6 1171.1,1284.1C1173.3,1285.7 1175.4,1288.3 1177.8,1291.2C1180.1,1294.1 1183.1,1298.9 1185.4,1301.6C1187.6,1304.3 1189.3,1306.0 1191.1,1307.3C1192.8,1308.6 1194.2,1309.5 1195.8,1309.6C1197.4,1309.7 1198.8,1308.7 1200.6,1307.9C1202.3,1307.0 1204.3,1306.3 1206.2,1304.5C1208.1,1302.6 1210.0,1299.6 1211.9,1296.9C1213.8,1294.2 1216.1,1290.4 1217.6,1288.3C1219.2,1286.3 1219.9,1285.1 1221.4,1284.5C1223.0,1284.0 1225.4,1284.6 1227.1,1284.9C1228.9,1285.2 1230.3,1285.2 1231.9,1286.0C1233.5,1286.9 1234.7,1288.6 1236.6,1290.2C1238.5,1291.9 1241.1,1295.3 1243.3,1295.9C1245.5,1296.5 1247.2,1295.0 1249.9,1294.0C1252.6,1293.1 1256.3,1290.6 1259.4,1290.2C1262.6,1289.8 1265.8,1291.7 1268.9,1291.7C1272.1,1291.8 1275.6,1290.9 1278.4,1290.6C1281.3,1290.3 1283.5,1290.2 1286.0,1289.6C1288.6,1289.1 1291.4,1287.7 1293.6,1287.4C1295.8,1287.0 1297.4,1287.1 1299.3,1287.4C1301.2,1287.7 1303.2,1288.7 1305.0,1289.3C1306.9,1289.8 1309.4,1290.5 1310.3,1290.8" fill="none" stroke="#c4242c" stroke-width="1.2"/>
<rect x="884.5" y="1220.5" width="425.8" height="320.1" fill="none" stroke="#111" stroke-width="1.9"/>
<text x="877.6" y="1227.3" text-anchor="end">0.1</text>
<line x1="884.5" y1="1274.1" x2="890.8" y2="1274.1" stroke="#111" stroke-width="1.4"/>
<text x="877.6" y="1280.9" text-anchor="end">0</text>
<line x1="884.5" y1="1326.9" x2="890.8" y2="1326.9" stroke="#111" stroke-width="1.4"/>
<text x="877.6" y="1333.7" text-anchor="end">−0.1</text>
<line x1="884.5" y1="1380.4" x2="890.8" y2="1380.4" stroke="#111" stroke-width="1.4"/>
<text x="877.6" y="1387.2" text-anchor="end">−0.2</text>
<line x1="884.5" y1="1434.0" x2="890.8" y2="1434.0" stroke="#111" stroke-width="1.4"/>
<text x="877.6" y="1440.8" text-anchor="end">−0.3</text>
<line x1="884.5" y1="1486.8" x2="890.8" y2="1486.8" stroke="#111" stroke-width="1.4"/>
<text x="877.6" y="1493.6" text-anchor="end">−0.4</text>
<text x="877.6" y="1547.4" text-anchor="end">−0.5</text>
<line x1="928.1" y1="1540.6" x2="928.1" y2="1534.3" stroke="#111" stroke-width="1.4"/>
<text x="928.7" y="1560.7" text-anchor="middle">100</text>
<line x1="986.9" y1="1540.6" x2="986.9" y2="1534.3" stroke="#111" stroke-width="1.4"/>
<text x="987.5" y="1560.7" text-anchor="middle">200</text>
<line x1="1045.6" y1="1540.6" x2="1045.6" y2="1534.3" stroke="#111" stroke-width="1.4"/>
<text x="1046.2" y="1560.7" text-anchor="middle">300</text>
<line x1="1104.4" y1="1540.6" x2="1104.4" y2="1534.3" stroke="#111" stroke-width="1.4"/>
<text x="1105.0" y="1560.7" text-anchor="middle">400</text>
<line x1="1163.2" y1="1540.6" x2="1163.2" y2="1534.3" stroke="#111" stroke-width="1.4"/>
<text x="1163.8" y="1560.7" text-anchor="middle">500</text>
<line x1="1222.0" y1="1540.6" x2="1222.0" y2="1534.3" stroke="#111" stroke-width="1.4"/>
<text x="1222.5" y="1560.7" text-anchor="middle">600</text>
<line x1="1280.7" y1="1540.6" x2="1280.7" y2="1534.3" stroke="#111" stroke-width="1.4"/>
<text x="1281.3" y="1560.7" text-anchor="middle">700</text>
<text x="1040.6" y="1581.4">Tempreature/℃</text>
<text transform="translate(836.8,1386.0) rotate(-90)" text-anchor="middle">Derivative Weight/(% · ℃<tspan dy="-6.5" font-size="12">−1</tspan><tspan dy="6.5">)</tspan></text>
<line x1="1152.1" y1="1237.0" x2="1181.6" y2="1237.0" stroke="#c4242c" stroke-width="1.2"/>
<text x="1187.1" y="1242.7">0 month</text>
<line x1="1152.1" y1="1259.4" x2="1182.5" y2="1259.4" stroke="#111" stroke-width="1.2"/>
<text x="1183.3" y="1264.6">12 months</text><rect x="124.0" y="184.10" width="1242.0" height="2.0" fill="#111"/><rect x="127.6" y="1746.20" width="589.0" height="3.0" fill="#111"/><rect x="127.6" y="1781.55" width="589.0" height="1.9" fill="#111"/><rect x="127.6" y="1846.10" width="589.0" height="3.0" fill="#111"/><rect x="771.1" y="1851.00" width="588.5" height="3.0" fill="#111"/><rect x="771.1" y="1888.85" width="588.5" height="1.9" fill="#111"/><rect x="771.1" y="1961.40" width="588.5" height="3.0" fill="#111"/></svg>
</body></html>
